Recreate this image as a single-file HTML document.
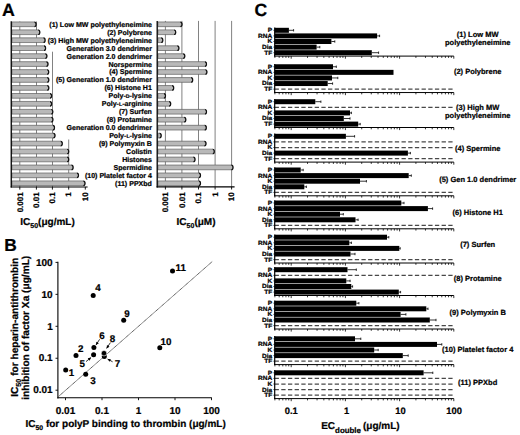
<!DOCTYPE html>
<html><head><meta charset="utf-8"><style>
html,body{margin:0;padding:0;background:#fff;}
body{width:520px;height:435px;overflow:hidden;}
svg{display:block;}
text{font-family:"Liberation Sans",sans-serif;font-weight:bold;fill:#000;stroke:#000;stroke-width:0.22px;text-rendering:geometricPrecision;}
</style></head><body>
<svg width="520" height="435" viewBox="0 0 520 435">
<rect width="520" height="435" fill="#fff"/>
<text x="1.90" y="15.70" font-size="17.8" text-anchor="start" >A</text>
<text x="4.20" y="250.70" font-size="17.4" text-anchor="start" >B</text>
<text x="254.50" y="15.60" font-size="17.6" text-anchor="start" >C</text>
<line x1="19.80" y1="21.50" x2="19.80" y2="187.00" stroke="#6c6c6c" stroke-width="0.85" />
<line x1="36.50" y1="21.50" x2="36.50" y2="187.00" stroke="#6c6c6c" stroke-width="0.85" />
<line x1="52.50" y1="51.70" x2="52.50" y2="187.00" stroke="#6c6c6c" stroke-width="0.85" />
<line x1="68.70" y1="139.50" x2="68.70" y2="187.00" stroke="#6c6c6c" stroke-width="0.85" />
<path d="M11.90,21.95 H34.30 Q36.10,21.95 36.10,24.30 Q36.10,26.65 34.30,26.65 H11.90 Z" fill="#b9b9b9" stroke="#5e5e5e" stroke-width="0.7"/>
<path d="M34.50,22.05 Q36.10,22.05 36.10,24.30 Q36.10,26.55 34.50,26.55" fill="none" stroke="#111" stroke-width="1.2"/>
<path d="M11.90,29.90 H38.00 Q39.80,29.90 39.80,32.25 Q39.80,34.60 38.00,34.60 H11.90 Z" fill="#b9b9b9" stroke="#5e5e5e" stroke-width="0.7"/>
<path d="M38.20,30.00 Q39.80,30.00 39.80,32.25 Q39.80,34.50 38.20,34.50" fill="none" stroke="#111" stroke-width="1.2"/>
<path d="M11.90,37.85 H43.30 Q45.10,37.85 45.10,40.20 Q45.10,42.55 43.30,42.55 H11.90 Z" fill="#b9b9b9" stroke="#5e5e5e" stroke-width="0.7"/>
<path d="M43.50,37.95 Q45.10,37.95 45.10,40.20 Q45.10,42.45 43.50,42.45" fill="none" stroke="#111" stroke-width="1.2"/>
<path d="M11.90,45.80 H43.80 Q45.60,45.80 45.60,48.15 Q45.60,50.50 43.80,50.50 H11.90 Z" fill="#b9b9b9" stroke="#5e5e5e" stroke-width="0.7"/>
<path d="M44.00,45.90 Q45.60,45.90 45.60,48.15 Q45.60,50.40 44.00,50.40" fill="none" stroke="#111" stroke-width="1.2"/>
<path d="M11.90,53.75 H45.10 Q46.90,53.75 46.90,56.10 Q46.90,58.45 45.10,58.45 H11.90 Z" fill="#b9b9b9" stroke="#5e5e5e" stroke-width="0.7"/>
<path d="M45.30,53.85 Q46.90,53.85 46.90,56.10 Q46.90,58.35 45.30,58.35" fill="none" stroke="#111" stroke-width="1.2"/>
<path d="M11.90,61.70 H46.20 Q48.00,61.70 48.00,64.05 Q48.00,66.40 46.20,66.40 H11.90 Z" fill="#b9b9b9" stroke="#5e5e5e" stroke-width="0.7"/>
<path d="M46.40,61.80 Q48.00,61.80 48.00,64.05 Q48.00,66.30 46.40,66.30" fill="none" stroke="#111" stroke-width="1.2"/>
<path d="M11.90,69.65 H46.90 Q48.70,69.65 48.70,72.00 Q48.70,74.35 46.90,74.35 H11.90 Z" fill="#b9b9b9" stroke="#5e5e5e" stroke-width="0.7"/>
<path d="M47.10,69.75 Q48.70,69.75 48.70,72.00 Q48.70,74.25 47.10,74.25" fill="none" stroke="#111" stroke-width="1.2"/>
<path d="M11.90,77.60 H47.00 Q48.80,77.60 48.80,79.95 Q48.80,82.30 47.00,82.30 H11.90 Z" fill="#b9b9b9" stroke="#5e5e5e" stroke-width="0.7"/>
<path d="M47.20,77.70 Q48.80,77.70 48.80,79.95 Q48.80,82.20 47.20,82.20" fill="none" stroke="#111" stroke-width="1.2"/>
<path d="M11.90,85.55 H47.00 Q48.80,85.55 48.80,87.90 Q48.80,90.25 47.00,90.25 H11.90 Z" fill="#b9b9b9" stroke="#5e5e5e" stroke-width="0.7"/>
<path d="M47.20,85.65 Q48.80,85.65 48.80,87.90 Q48.80,90.15 47.20,90.15" fill="none" stroke="#111" stroke-width="1.2"/>
<path d="M11.90,93.50 H49.80 Q51.60,93.50 51.60,95.85 Q51.60,98.20 49.80,98.20 H11.90 Z" fill="#b9b9b9" stroke="#5e5e5e" stroke-width="0.7"/>
<path d="M50.00,93.60 Q51.60,93.60 51.60,95.85 Q51.60,98.10 50.00,98.10" fill="none" stroke="#111" stroke-width="1.2"/>
<path d="M11.90,101.45 H49.80 Q51.60,101.45 51.60,103.80 Q51.60,106.15 49.80,106.15 H11.90 Z" fill="#b9b9b9" stroke="#5e5e5e" stroke-width="0.7"/>
<path d="M50.00,101.55 Q51.60,101.55 51.60,103.80 Q51.60,106.05 50.00,106.05" fill="none" stroke="#111" stroke-width="1.2"/>
<path d="M11.90,109.40 H51.00 Q52.80,109.40 52.80,111.75 Q52.80,114.10 51.00,114.10 H11.90 Z" fill="#b9b9b9" stroke="#5e5e5e" stroke-width="0.7"/>
<path d="M51.20,109.50 Q52.80,109.50 52.80,111.75 Q52.80,114.00 51.20,114.00" fill="none" stroke="#111" stroke-width="1.2"/>
<path d="M11.90,117.35 H51.10 Q52.90,117.35 52.90,119.70 Q52.90,122.05 51.10,122.05 H11.90 Z" fill="#b9b9b9" stroke="#5e5e5e" stroke-width="0.7"/>
<path d="M51.30,117.45 Q52.90,117.45 52.90,119.70 Q52.90,121.95 51.30,121.95" fill="none" stroke="#111" stroke-width="1.2"/>
<path d="M11.90,125.30 H52.70 Q54.50,125.30 54.50,127.65 Q54.50,130.00 52.70,130.00 H11.90 Z" fill="#b9b9b9" stroke="#5e5e5e" stroke-width="0.7"/>
<path d="M52.90,125.40 Q54.50,125.40 54.50,127.65 Q54.50,129.90 52.90,129.90" fill="none" stroke="#111" stroke-width="1.2"/>
<path d="M11.90,133.25 H53.20 Q55.00,133.25 55.00,135.60 Q55.00,137.95 53.20,137.95 H11.90 Z" fill="#b9b9b9" stroke="#5e5e5e" stroke-width="0.7"/>
<path d="M53.40,133.35 Q55.00,133.35 55.00,135.60 Q55.00,137.85 53.40,137.85" fill="none" stroke="#111" stroke-width="1.2"/>
<path d="M11.90,141.20 H60.50 Q62.30,141.20 62.30,143.55 Q62.30,145.90 60.50,145.90 H11.90 Z" fill="#b9b9b9" stroke="#5e5e5e" stroke-width="0.7"/>
<path d="M60.70,141.30 Q62.30,141.30 62.30,143.55 Q62.30,145.80 60.70,145.80" fill="none" stroke="#111" stroke-width="1.2"/>
<path d="M11.90,149.15 H66.90 Q68.70,149.15 68.70,151.50 Q68.70,153.85 66.90,153.85 H11.90 Z" fill="#b9b9b9" stroke="#5e5e5e" stroke-width="0.7"/>
<path d="M67.10,149.25 Q68.70,149.25 68.70,151.50 Q68.70,153.75 67.10,153.75" fill="none" stroke="#111" stroke-width="1.2"/>
<path d="M11.90,157.10 H66.90 Q68.70,157.10 68.70,159.45 Q68.70,161.80 66.90,161.80 H11.90 Z" fill="#b9b9b9" stroke="#5e5e5e" stroke-width="0.7"/>
<path d="M67.10,157.20 Q68.70,157.20 68.70,159.45 Q68.70,161.70 67.10,161.70" fill="none" stroke="#111" stroke-width="1.2"/>
<path d="M11.90,165.05 H71.30 Q73.10,165.05 73.10,167.40 Q73.10,169.75 71.30,169.75 H11.90 Z" fill="#b9b9b9" stroke="#5e5e5e" stroke-width="0.7"/>
<path d="M71.50,165.15 Q73.10,165.15 73.10,167.40 Q73.10,169.65 71.50,169.65" fill="none" stroke="#111" stroke-width="1.2"/>
<path d="M11.90,173.00 H76.70 Q78.50,173.00 78.50,175.35 Q78.50,177.70 76.70,177.70 H11.90 Z" fill="#b9b9b9" stroke="#5e5e5e" stroke-width="0.7"/>
<path d="M76.90,173.10 Q78.50,173.10 78.50,175.35 Q78.50,177.60 76.90,177.60" fill="none" stroke="#111" stroke-width="1.2"/>
<path d="M11.90,180.95 H83.20 Q85.00,180.95 85.00,183.30 Q85.00,185.65 83.20,185.65 H11.90 Z" fill="#b9b9b9" stroke="#5e5e5e" stroke-width="0.7"/>
<path d="M83.40,181.05 Q85.00,181.05 85.00,183.30 Q85.00,185.55 83.40,185.55" fill="none" stroke="#111" stroke-width="1.2"/>
<line x1="11.25" y1="21.30" x2="11.25" y2="187.60" stroke="#000" stroke-width="1.3" />
<line x1="10.65" y1="187.00" x2="87.60" y2="187.00" stroke="#000" stroke-width="1.2" />
<line x1="19.80" y1="187.00" x2="19.80" y2="189.60" stroke="#000" stroke-width="0.9" />
<line x1="36.40" y1="187.00" x2="36.40" y2="189.60" stroke="#000" stroke-width="0.9" />
<line x1="52.40" y1="187.00" x2="52.40" y2="189.60" stroke="#000" stroke-width="0.9" />
<line x1="68.70" y1="187.00" x2="68.70" y2="189.60" stroke="#000" stroke-width="0.9" />
<line x1="85.30" y1="187.00" x2="85.30" y2="189.60" stroke="#000" stroke-width="0.9" />
<text transform="translate(22.50,192.3) rotate(-90)" font-size="8.0" text-anchor="end">0.001</text>
<text transform="translate(39.10,192.3) rotate(-90)" font-size="8.0" text-anchor="end">0.01</text>
<text transform="translate(55.10,192.3) rotate(-90)" font-size="8.0" text-anchor="end">0.1</text>
<text transform="translate(71.40,192.3) rotate(-90)" font-size="8.0" text-anchor="end">1</text>
<text transform="translate(88.00,192.3) rotate(-90)" font-size="8.0" text-anchor="end">10</text>
<line x1="165.40" y1="20.90" x2="165.40" y2="186.90" stroke="#6c6c6c" stroke-width="0.85" />
<line x1="181.90" y1="20.90" x2="181.90" y2="186.90" stroke="#6c6c6c" stroke-width="0.85" />
<line x1="198.50" y1="20.90" x2="198.50" y2="186.90" stroke="#6c6c6c" stroke-width="0.85" />
<line x1="215.10" y1="20.90" x2="215.10" y2="186.90" stroke="#6c6c6c" stroke-width="0.85" />
<line x1="231.60" y1="20.90" x2="231.60" y2="186.90" stroke="#6c6c6c" stroke-width="0.85" />
<path d="M157.90,21.95 H180.20 Q182.00,21.95 182.00,24.30 Q182.00,26.65 180.20,26.65 H157.90 Z" fill="#b9b9b9" stroke="#5e5e5e" stroke-width="0.7"/>
<path d="M180.40,22.05 Q182.00,22.05 182.00,24.30 Q182.00,26.55 180.40,26.55" fill="none" stroke="#111" stroke-width="1.2"/>
<path d="M157.90,29.90 H173.90 Q175.70,29.90 175.70,32.25 Q175.70,34.60 173.90,34.60 H157.90 Z" fill="#b9b9b9" stroke="#5e5e5e" stroke-width="0.7"/>
<path d="M174.10,30.00 Q175.70,30.00 175.70,32.25 Q175.70,34.50 174.10,34.50" fill="none" stroke="#111" stroke-width="1.2"/>
<path d="M157.90,37.85 H161.00 Q162.80,37.85 162.80,40.20 Q162.80,42.55 161.00,42.55 H157.90 Z" fill="#b9b9b9" stroke="#5e5e5e" stroke-width="0.7"/>
<path d="M161.20,37.95 Q162.80,37.95 162.80,40.20 Q162.80,42.45 161.20,42.45" fill="none" stroke="#111" stroke-width="1.2"/>
<path d="M157.90,45.80 H177.10 Q178.90,45.80 178.90,48.15 Q178.90,50.50 177.10,50.50 H157.90 Z" fill="#b9b9b9" stroke="#5e5e5e" stroke-width="0.7"/>
<path d="M177.30,45.90 Q178.90,45.90 178.90,48.15 Q178.90,50.40 177.30,50.40" fill="none" stroke="#111" stroke-width="1.2"/>
<path d="M157.90,53.75 H183.00 Q184.80,53.75 184.80,56.10 Q184.80,58.45 183.00,58.45 H157.90 Z" fill="#b9b9b9" stroke="#5e5e5e" stroke-width="0.7"/>
<path d="M183.20,53.85 Q184.80,53.85 184.80,56.10 Q184.80,58.35 183.20,58.35" fill="none" stroke="#111" stroke-width="1.2"/>
<path d="M157.90,61.70 H204.70 Q206.50,61.70 206.50,64.05 Q206.50,66.40 204.70,66.40 H157.90 Z" fill="#b9b9b9" stroke="#5e5e5e" stroke-width="0.7"/>
<path d="M204.90,61.80 Q206.50,61.80 206.50,64.05 Q206.50,66.30 204.90,66.30" fill="none" stroke="#111" stroke-width="1.2"/>
<path d="M157.90,69.65 H205.10 Q206.90,69.65 206.90,72.00 Q206.90,74.35 205.10,74.35 H157.90 Z" fill="#b9b9b9" stroke="#5e5e5e" stroke-width="0.7"/>
<path d="M205.30,69.75 Q206.90,69.75 206.90,72.00 Q206.90,74.25 205.30,74.25" fill="none" stroke="#111" stroke-width="1.2"/>
<path d="M157.90,77.60 H190.90 Q192.70,77.60 192.70,79.95 Q192.70,82.30 190.90,82.30 H157.90 Z" fill="#b9b9b9" stroke="#5e5e5e" stroke-width="0.7"/>
<path d="M191.10,77.70 Q192.70,77.70 192.70,79.95 Q192.70,82.20 191.10,82.20" fill="none" stroke="#111" stroke-width="1.2"/>
<path d="M157.90,85.55 H171.90 Q173.70,85.55 173.70,87.90 Q173.70,90.25 171.90,90.25 H157.90 Z" fill="#b9b9b9" stroke="#5e5e5e" stroke-width="0.7"/>
<path d="M172.10,85.65 Q173.70,85.65 173.70,87.90 Q173.70,90.15 172.10,90.15" fill="none" stroke="#111" stroke-width="1.2"/>
<path d="M157.90,93.50 H163.70 Q165.50,93.50 165.50,95.85 Q165.50,98.20 163.70,98.20 H157.90 Z" fill="#b9b9b9" stroke="#5e5e5e" stroke-width="0.7"/>
<path d="M163.90,93.60 Q165.50,93.60 165.50,95.85 Q165.50,98.10 163.90,98.10" fill="none" stroke="#111" stroke-width="1.2"/>
<path d="M157.90,101.45 H168.90 Q170.70,101.45 170.70,103.80 Q170.70,106.15 168.90,106.15 H157.90 Z" fill="#b9b9b9" stroke="#5e5e5e" stroke-width="0.7"/>
<path d="M169.10,101.55 Q170.70,101.55 170.70,103.80 Q170.70,106.05 169.10,106.05" fill="none" stroke="#111" stroke-width="1.2"/>
<path d="M157.90,109.40 H204.70 Q206.50,109.40 206.50,111.75 Q206.50,114.10 204.70,114.10 H157.90 Z" fill="#b9b9b9" stroke="#5e5e5e" stroke-width="0.7"/>
<path d="M204.90,109.50 Q206.50,109.50 206.50,111.75 Q206.50,114.00 204.90,114.00" fill="none" stroke="#111" stroke-width="1.2"/>
<path d="M157.90,117.35 H184.00 Q185.80,117.35 185.80,119.70 Q185.80,122.05 184.00,122.05 H157.90 Z" fill="#b9b9b9" stroke="#5e5e5e" stroke-width="0.7"/>
<path d="M184.20,117.45 Q185.80,117.45 185.80,119.70 Q185.80,121.95 184.20,121.95" fill="none" stroke="#111" stroke-width="1.2"/>
<path d="M157.90,125.30 H204.50 Q206.30,125.30 206.30,127.65 Q206.30,130.00 204.50,130.00 H157.90 Z" fill="#b9b9b9" stroke="#5e5e5e" stroke-width="0.7"/>
<path d="M204.70,125.40 Q206.30,125.40 206.30,127.65 Q206.30,129.90 204.70,129.90" fill="none" stroke="#111" stroke-width="1.2"/>
<path d="M157.90,133.25 H159.40 Q161.20,133.25 161.20,135.60 Q161.20,137.95 159.40,137.95 H157.90 Z" fill="#b9b9b9" stroke="#5e5e5e" stroke-width="0.7"/>
<path d="M159.60,133.35 Q161.20,133.35 161.20,135.60 Q161.20,137.85 159.60,137.85" fill="none" stroke="#111" stroke-width="1.2"/>
<path d="M157.90,141.20 H204.20 Q206.00,141.20 206.00,143.55 Q206.00,145.90 204.20,145.90 H157.90 Z" fill="#b9b9b9" stroke="#5e5e5e" stroke-width="0.7"/>
<path d="M204.40,141.30 Q206.00,141.30 206.00,143.55 Q206.00,145.80 204.40,145.80" fill="none" stroke="#111" stroke-width="1.2"/>
<path d="M157.90,149.15 H212.50 Q214.30,149.15 214.30,151.50 Q214.30,153.85 212.50,153.85 H157.90 Z" fill="#b9b9b9" stroke="#5e5e5e" stroke-width="0.7"/>
<path d="M212.70,149.25 Q214.30,149.25 214.30,151.50 Q214.30,153.75 212.70,153.75" fill="none" stroke="#111" stroke-width="1.2"/>
<path d="M157.90,157.10 H193.20 Q195.00,157.10 195.00,159.45 Q195.00,161.80 193.20,161.80 H157.90 Z" fill="#b9b9b9" stroke="#5e5e5e" stroke-width="0.7"/>
<path d="M193.40,157.20 Q195.00,157.20 195.00,159.45 Q195.00,161.70 193.40,161.70" fill="none" stroke="#111" stroke-width="1.2"/>
<path d="M157.90,165.05 H231.20 Q233.00,165.05 233.00,167.40 Q233.00,169.75 231.20,169.75 H157.90 Z" fill="#b9b9b9" stroke="#5e5e5e" stroke-width="0.7"/>
<path d="M231.40,165.15 Q233.00,165.15 233.00,167.40 Q233.00,169.65 231.40,169.65" fill="none" stroke="#111" stroke-width="1.2"/>
<path d="M157.90,173.00 H198.70 Q200.50,173.00 200.50,175.35 Q200.50,177.70 198.70,177.70 H157.90 Z" fill="#b9b9b9" stroke="#5e5e5e" stroke-width="0.7"/>
<path d="M198.90,173.10 Q200.50,173.10 200.50,175.35 Q200.50,177.60 198.90,177.60" fill="none" stroke="#111" stroke-width="1.2"/>
<path d="M157.90,180.95 H198.70 Q200.50,180.95 200.50,183.30 Q200.50,185.65 198.70,185.65 H157.90 Z" fill="#b9b9b9" stroke="#5e5e5e" stroke-width="0.7"/>
<path d="M198.90,181.05 Q200.50,181.05 200.50,183.30 Q200.50,185.55 198.90,185.55" fill="none" stroke="#111" stroke-width="1.2"/>
<line x1="157.20" y1="20.90" x2="157.20" y2="187.50" stroke="#000" stroke-width="1.3" />
<line x1="156.60" y1="186.90" x2="234.60" y2="186.90" stroke="#000" stroke-width="1.2" />
<line x1="165.40" y1="186.90" x2="165.40" y2="189.50" stroke="#000" stroke-width="0.9" />
<line x1="181.90" y1="186.90" x2="181.90" y2="189.50" stroke="#000" stroke-width="0.9" />
<line x1="198.50" y1="186.90" x2="198.50" y2="189.50" stroke="#000" stroke-width="0.9" />
<line x1="215.10" y1="186.90" x2="215.10" y2="189.50" stroke="#000" stroke-width="0.9" />
<line x1="231.60" y1="186.90" x2="231.60" y2="189.50" stroke="#000" stroke-width="0.9" />
<text transform="translate(168.10,192.3) rotate(-90)" font-size="8.0" text-anchor="end">0.001</text>
<text transform="translate(184.60,192.3) rotate(-90)" font-size="8.0" text-anchor="end">0.01</text>
<text transform="translate(201.20,192.3) rotate(-90)" font-size="8.0" text-anchor="end">0.1</text>
<text transform="translate(217.80,192.3) rotate(-90)" font-size="8.0" text-anchor="end">1</text>
<text transform="translate(234.30,192.3) rotate(-90)" font-size="8.0" text-anchor="end">10</text>
<text x="151.90" y="26.75" font-size="7.05" text-anchor="end" >(1) Low MW polyethyleneimine</text>
<text x="151.90" y="34.70" font-size="7.05" text-anchor="end" >(2) Polybrene</text>
<text x="151.90" y="42.65" font-size="7.05" text-anchor="end" >(3) High MW polyethyleneimine</text>
<text x="151.90" y="50.60" font-size="7.05" text-anchor="end" >Generation 3.0 dendrimer</text>
<text x="151.90" y="58.55" font-size="7.05" text-anchor="end" >Generation 2.0 dendrimer</text>
<text x="151.90" y="66.50" font-size="7.05" text-anchor="end" >Norspermine</text>
<text x="151.90" y="74.45" font-size="7.05" text-anchor="end" >(4) Spermine</text>
<text x="151.90" y="82.40" font-size="7.05" text-anchor="end" >(5) Generation 1.0 dendrimer</text>
<text x="151.90" y="90.35" font-size="7.05" text-anchor="end" >(6) Histone H1</text>
<text x="151.90" y="98.30" font-size="7.05" text-anchor="end" >Poly-<tspan font-size="5.2">D</tspan>-lysine</text>
<text x="151.90" y="106.25" font-size="7.05" text-anchor="end" >Poly-<tspan font-size="5.2">L</tspan>-arginine</text>
<text x="151.90" y="114.20" font-size="7.05" text-anchor="end" >(7) Surfen</text>
<text x="151.90" y="122.15" font-size="7.05" text-anchor="end" >(8) Protamine</text>
<text x="151.90" y="130.10" font-size="7.05" text-anchor="end" >Generation 0.0 dendrimer</text>
<text x="151.90" y="138.05" font-size="7.05" text-anchor="end" >Poly-<tspan font-size="5.2">L</tspan>-lysine</text>
<text x="151.90" y="146.00" font-size="7.05" text-anchor="end" >(9) Polymyxin B</text>
<text x="151.90" y="153.95" font-size="7.05" text-anchor="end" >Colistin</text>
<text x="151.90" y="161.90" font-size="7.05" text-anchor="end" >Histones</text>
<text x="151.90" y="169.85" font-size="7.05" text-anchor="end" >Spermidine</text>
<text x="151.90" y="177.80" font-size="7.05" text-anchor="end" >(10) Platelet factor 4</text>
<text x="151.90" y="185.75" font-size="7.05" text-anchor="end" >(11) PPXbd</text>
<text x="20.3" y="225.4" font-size="10">IC<tspan font-size="7" dy="2.7">50</tspan><tspan dy="-2.7">(μg/mL)</tspan></text>
<text x="176.6" y="225.4" font-size="10">IC<tspan font-size="7" dy="2.7">50</tspan><tspan dy="-2.7">(μM)</tspan></text>
<line x1="57.90" y1="261.80" x2="57.90" y2="398.40" stroke="#000" stroke-width="1.1" />
<line x1="57.40" y1="397.80" x2="211.80" y2="397.80" stroke="#000" stroke-width="1.1" />
<line x1="55.50" y1="262.40" x2="57.90" y2="262.40" stroke="#000" stroke-width="0.9" />
<text x="52.70" y="265.60" font-size="10.0" text-anchor="end" >100</text>
<line x1="55.50" y1="294.35" x2="57.90" y2="294.35" stroke="#000" stroke-width="0.9" />
<text x="52.70" y="297.55" font-size="10.0" text-anchor="end" >10</text>
<line x1="55.50" y1="326.30" x2="57.90" y2="326.30" stroke="#000" stroke-width="0.9" />
<text x="52.70" y="329.50" font-size="10.0" text-anchor="end" >1</text>
<line x1="55.50" y1="358.25" x2="57.90" y2="358.25" stroke="#000" stroke-width="0.9" />
<text x="52.70" y="361.45" font-size="10.0" text-anchor="end" >0.1</text>
<line x1="55.50" y1="390.20" x2="57.90" y2="390.20" stroke="#000" stroke-width="0.9" />
<text x="52.70" y="393.40" font-size="10.0" text-anchor="end" >0.01</text>
<line x1="65.50" y1="397.80" x2="65.50" y2="400.20" stroke="#000" stroke-width="0.9" />
<text x="65.50" y="413.80" font-size="10.0" text-anchor="middle" >0.01</text>
<line x1="102.00" y1="397.80" x2="102.00" y2="400.20" stroke="#000" stroke-width="0.9" />
<text x="102.00" y="413.80" font-size="10.0" text-anchor="middle" >0.1</text>
<line x1="138.50" y1="397.80" x2="138.50" y2="400.20" stroke="#000" stroke-width="0.9" />
<text x="138.50" y="413.80" font-size="10.0" text-anchor="middle" >1</text>
<line x1="175.00" y1="397.80" x2="175.00" y2="400.20" stroke="#000" stroke-width="0.9" />
<text x="175.00" y="413.80" font-size="10.0" text-anchor="middle" >10</text>
<line x1="211.50" y1="397.80" x2="211.50" y2="400.20" stroke="#000" stroke-width="0.9" />
<text x="211.50" y="413.80" font-size="10.0" text-anchor="middle" >100</text>
<line x1="58.6" y1="396.40" x2="212.2" y2="261.6" stroke="#2a2a2a" stroke-width="0.9" stroke-dasharray="1.1 0.5"/>
<circle cx="65.7" cy="370.1" r="2.5" fill="#000"/>
<circle cx="76.0" cy="355.5" r="2.5" fill="#000"/>
<circle cx="85.7" cy="374.3" r="2.5" fill="#000"/>
<circle cx="93.2" cy="295.5" r="2.5" fill="#000"/>
<circle cx="93.6" cy="354.7" r="2.5" fill="#000"/>
<circle cx="93.9" cy="347.6" r="2.5" fill="#000"/>
<circle cx="104.3" cy="356.6" r="2.5" fill="#000"/>
<circle cx="104.0" cy="353.2" r="2.75" fill="#000" stroke="#fff" stroke-width="0.6"/>
<circle cx="123.7" cy="320.2" r="2.5" fill="#000"/>
<circle cx="159.8" cy="347.7" r="2.5" fill="#000"/>
<circle cx="172.5" cy="270.9" r="2.5" fill="#000"/>
<text x="71.40" y="376.30" font-size="9.8" text-anchor="middle" >1</text>
<text x="80.80" y="352.10" font-size="9.8" text-anchor="middle" >2</text>
<text x="93.10" y="383.50" font-size="9.8" text-anchor="middle" >3</text>
<text x="97.90" y="290.50" font-size="9.8" text-anchor="middle" >4</text>
<text x="82.30" y="367.40" font-size="9.8" text-anchor="middle" >5</text>
<text x="102.00" y="338.70" font-size="9.8" text-anchor="middle" >6</text>
<text x="117.60" y="367.40" font-size="9.8" text-anchor="middle" >7</text>
<text x="112.60" y="342.30" font-size="9.8" text-anchor="middle" >8</text>
<text x="127.00" y="316.50" font-size="9.8" text-anchor="middle" >9</text>
<text x="166.00" y="344.70" font-size="9.8" text-anchor="middle" >10</text>
<text x="180.80" y="270.70" font-size="9.8" text-anchor="middle" >11</text>
<line x1="99.60" y1="339.30" x2="96.00" y2="345.00" stroke="#000" stroke-width="0.8" />
<polygon points="96.00,345.00 96.33,341.66 98.87,343.26" fill="#000"/>
<line x1="86.00" y1="361.60" x2="91.00" y2="357.60" stroke="#000" stroke-width="0.8" />
<polygon points="91.00,357.60 89.59,360.65 87.72,358.30" fill="#000"/>
<line x1="112.60" y1="361.80" x2="107.60" y2="359.00" stroke="#000" stroke-width="0.8" />
<polygon points="107.60,359.00 110.95,359.16 109.48,361.77" fill="#000"/>
<line x1="110.40" y1="342.60" x2="106.60" y2="348.40" stroke="#000" stroke-width="0.8" />
<polygon points="106.60,348.40 106.99,345.07 109.50,346.71" fill="#000"/>
<text x="25.6" y="426.9" font-size="10">IC<tspan font-size="6.8" dy="2.6">50</tspan><tspan dy="-2.6"> for polyP binding to thrombin (μg/mL)</tspan></text>
<text transform="translate(18.2,396.8) rotate(-90)" font-size="10.15">IC<tspan font-size="7.2" dy="3.0">50</tspan><tspan dy="-3.0"> for heparin-antithrombin</tspan></text>
<text transform="translate(29.2,399.8) rotate(-90)" font-size="10.15">inhibition of factor Xa (μg/mL)</text>
<rect x="274.70" y="27.80" width="14.20" height="5.00" fill="#000" />
<line x1="288.90" y1="30.30" x2="293.60" y2="30.30" stroke="#000" stroke-width="0.8" />
<line x1="293.60" y1="29.10" x2="293.60" y2="31.50" stroke="#000" stroke-width="0.8" />
<text transform="translate(272.2,32.20) scale(1.08,1)" font-size="6.05" text-anchor="end">P</text>
<line x1="273.30" y1="30.30" x2="274.70" y2="30.30" stroke="#000" stroke-width="0.6" />
<rect x="274.70" y="33.40" width="102.40" height="5.00" fill="#000" />
<line x1="377.10" y1="35.90" x2="379.60" y2="35.90" stroke="#000" stroke-width="0.8" />
<line x1="379.60" y1="34.70" x2="379.60" y2="37.10" stroke="#000" stroke-width="0.8" />
<text transform="translate(272.2,37.80) scale(1.08,1)" font-size="6.05" text-anchor="end">RNA</text>
<line x1="273.30" y1="35.90" x2="274.70" y2="35.90" stroke="#000" stroke-width="0.6" />
<rect x="274.70" y="39.00" width="56.70" height="5.00" fill="#000" />
<line x1="331.40" y1="41.50" x2="334.80" y2="41.50" stroke="#000" stroke-width="0.8" />
<line x1="334.80" y1="40.30" x2="334.80" y2="42.70" stroke="#000" stroke-width="0.8" />
<text transform="translate(272.2,43.40) scale(1.08,1)" font-size="6.05" text-anchor="end">K</text>
<line x1="273.30" y1="41.50" x2="274.70" y2="41.50" stroke="#000" stroke-width="0.6" />
<rect x="274.70" y="44.60" width="41.90" height="5.00" fill="#000" />
<line x1="316.60" y1="47.10" x2="319.80" y2="47.10" stroke="#000" stroke-width="0.8" />
<line x1="319.80" y1="45.90" x2="319.80" y2="48.30" stroke="#000" stroke-width="0.8" />
<text transform="translate(272.2,49.00) scale(1.08,1)" font-size="6.05" text-anchor="end">Dia</text>
<line x1="273.30" y1="47.10" x2="274.70" y2="47.10" stroke="#000" stroke-width="0.6" />
<rect x="274.70" y="50.20" width="97.10" height="5.00" fill="#000" />
<line x1="371.80" y1="52.70" x2="378.60" y2="52.70" stroke="#000" stroke-width="0.8" />
<line x1="378.60" y1="51.50" x2="378.60" y2="53.90" stroke="#000" stroke-width="0.8" />
<text transform="translate(272.2,54.60) scale(1.08,1)" font-size="6.05" text-anchor="end">TF</text>
<line x1="273.30" y1="52.70" x2="274.70" y2="52.70" stroke="#000" stroke-width="0.6" />
<line x1="274.70" y1="27.50" x2="274.70" y2="56.60" stroke="#000" stroke-width="1.2" />
<line x1="274.10" y1="56.10" x2="453.80" y2="56.10" stroke="#000" stroke-width="1.0" />
<line x1="274.88" y1="56.10" x2="274.88" y2="57.90" stroke="#000" stroke-width="0.8" />
<line x1="279.18" y1="56.10" x2="279.18" y2="57.90" stroke="#000" stroke-width="0.8" />
<line x1="282.80" y1="56.10" x2="282.80" y2="57.90" stroke="#000" stroke-width="0.8" />
<line x1="285.95" y1="56.10" x2="285.95" y2="57.90" stroke="#000" stroke-width="0.8" />
<line x1="288.72" y1="56.10" x2="288.72" y2="57.90" stroke="#000" stroke-width="0.8" />
<line x1="291.20" y1="56.10" x2="291.20" y2="58.70" stroke="#000" stroke-width="0.8" />
<line x1="307.52" y1="56.10" x2="307.52" y2="57.90" stroke="#000" stroke-width="0.8" />
<line x1="317.06" y1="56.10" x2="317.06" y2="57.90" stroke="#000" stroke-width="0.8" />
<line x1="323.83" y1="56.10" x2="323.83" y2="57.90" stroke="#000" stroke-width="0.8" />
<line x1="329.08" y1="56.10" x2="329.08" y2="57.90" stroke="#000" stroke-width="0.8" />
<line x1="333.38" y1="56.10" x2="333.38" y2="57.90" stroke="#000" stroke-width="0.8" />
<line x1="337.00" y1="56.10" x2="337.00" y2="57.90" stroke="#000" stroke-width="0.8" />
<line x1="340.15" y1="56.10" x2="340.15" y2="57.90" stroke="#000" stroke-width="0.8" />
<line x1="342.92" y1="56.10" x2="342.92" y2="57.90" stroke="#000" stroke-width="0.8" />
<line x1="345.40" y1="56.10" x2="345.40" y2="58.70" stroke="#000" stroke-width="0.8" />
<line x1="361.72" y1="56.10" x2="361.72" y2="57.90" stroke="#000" stroke-width="0.8" />
<line x1="371.26" y1="56.10" x2="371.26" y2="57.90" stroke="#000" stroke-width="0.8" />
<line x1="378.03" y1="56.10" x2="378.03" y2="57.90" stroke="#000" stroke-width="0.8" />
<line x1="383.28" y1="56.10" x2="383.28" y2="57.90" stroke="#000" stroke-width="0.8" />
<line x1="387.58" y1="56.10" x2="387.58" y2="57.90" stroke="#000" stroke-width="0.8" />
<line x1="391.20" y1="56.10" x2="391.20" y2="57.90" stroke="#000" stroke-width="0.8" />
<line x1="394.35" y1="56.10" x2="394.35" y2="57.90" stroke="#000" stroke-width="0.8" />
<line x1="397.12" y1="56.10" x2="397.12" y2="57.90" stroke="#000" stroke-width="0.8" />
<line x1="399.60" y1="56.10" x2="399.60" y2="58.70" stroke="#000" stroke-width="0.8" />
<line x1="415.92" y1="56.10" x2="415.92" y2="57.90" stroke="#000" stroke-width="0.8" />
<line x1="425.46" y1="56.10" x2="425.46" y2="57.90" stroke="#000" stroke-width="0.8" />
<line x1="432.23" y1="56.10" x2="432.23" y2="57.90" stroke="#000" stroke-width="0.8" />
<line x1="437.48" y1="56.10" x2="437.48" y2="57.90" stroke="#000" stroke-width="0.8" />
<line x1="441.78" y1="56.10" x2="441.78" y2="57.90" stroke="#000" stroke-width="0.8" />
<line x1="445.40" y1="56.10" x2="445.40" y2="57.90" stroke="#000" stroke-width="0.8" />
<line x1="448.55" y1="56.10" x2="448.55" y2="57.90" stroke="#000" stroke-width="0.8" />
<line x1="451.32" y1="56.10" x2="451.32" y2="57.90" stroke="#000" stroke-width="0.8" />
<line x1="453.80" y1="56.10" x2="453.80" y2="58.70" stroke="#000" stroke-width="0.8" />
<text x="477.70" y="37.40" font-size="7.5" text-anchor="middle" >(1) Low MW</text>
<text x="477.70" y="45.10" font-size="7.5" text-anchor="middle" >polyethyleneimine</text>
<rect x="274.70" y="64.25" width="58.30" height="5.00" fill="#000" />
<line x1="333.00" y1="66.75" x2="336.30" y2="66.75" stroke="#000" stroke-width="0.8" />
<line x1="336.30" y1="65.55" x2="336.30" y2="67.95" stroke="#000" stroke-width="0.8" />
<text transform="translate(272.2,68.65) scale(1.08,1)" font-size="6.05" text-anchor="end">P</text>
<line x1="273.30" y1="66.75" x2="274.70" y2="66.75" stroke="#000" stroke-width="0.6" />
<rect x="274.70" y="69.85" width="118.80" height="5.00" fill="#000" />
<text transform="translate(272.2,74.25) scale(1.08,1)" font-size="6.05" text-anchor="end">RNA</text>
<line x1="273.30" y1="72.35" x2="274.70" y2="72.35" stroke="#000" stroke-width="0.6" />
<rect x="274.70" y="75.45" width="57.30" height="5.00" fill="#000" />
<line x1="332.00" y1="77.95" x2="337.80" y2="77.95" stroke="#000" stroke-width="0.8" />
<line x1="337.80" y1="76.75" x2="337.80" y2="79.15" stroke="#000" stroke-width="0.8" />
<text transform="translate(272.2,79.85) scale(1.08,1)" font-size="6.05" text-anchor="end">K</text>
<line x1="273.30" y1="77.95" x2="274.70" y2="77.95" stroke="#000" stroke-width="0.6" />
<rect x="274.70" y="81.05" width="53.00" height="5.00" fill="#000" />
<line x1="327.70" y1="83.55" x2="332.60" y2="83.55" stroke="#000" stroke-width="0.8" />
<line x1="332.60" y1="82.35" x2="332.60" y2="84.75" stroke="#000" stroke-width="0.8" />
<text transform="translate(272.2,85.45) scale(1.08,1)" font-size="6.05" text-anchor="end">Dia</text>
<line x1="273.30" y1="83.55" x2="274.70" y2="83.55" stroke="#000" stroke-width="0.6" />
<line x1="274.60" y1="89.15" x2="453.00" y2="89.15" stroke="#484848" stroke-width="1.25" stroke-dasharray="4.3 2.38"/>
<text transform="translate(272.2,91.05) scale(1.08,1)" font-size="6.05" text-anchor="end">TF</text>
<line x1="273.30" y1="89.15" x2="274.70" y2="89.15" stroke="#000" stroke-width="0.6" />
<line x1="274.70" y1="63.95" x2="274.70" y2="93.05" stroke="#000" stroke-width="1.2" />
<line x1="274.10" y1="92.55" x2="453.80" y2="92.55" stroke="#000" stroke-width="1.0" />
<line x1="274.88" y1="92.55" x2="274.88" y2="94.35" stroke="#000" stroke-width="0.8" />
<line x1="279.18" y1="92.55" x2="279.18" y2="94.35" stroke="#000" stroke-width="0.8" />
<line x1="282.80" y1="92.55" x2="282.80" y2="94.35" stroke="#000" stroke-width="0.8" />
<line x1="285.95" y1="92.55" x2="285.95" y2="94.35" stroke="#000" stroke-width="0.8" />
<line x1="288.72" y1="92.55" x2="288.72" y2="94.35" stroke="#000" stroke-width="0.8" />
<line x1="291.20" y1="92.55" x2="291.20" y2="95.15" stroke="#000" stroke-width="0.8" />
<line x1="307.52" y1="92.55" x2="307.52" y2="94.35" stroke="#000" stroke-width="0.8" />
<line x1="317.06" y1="92.55" x2="317.06" y2="94.35" stroke="#000" stroke-width="0.8" />
<line x1="323.83" y1="92.55" x2="323.83" y2="94.35" stroke="#000" stroke-width="0.8" />
<line x1="329.08" y1="92.55" x2="329.08" y2="94.35" stroke="#000" stroke-width="0.8" />
<line x1="333.38" y1="92.55" x2="333.38" y2="94.35" stroke="#000" stroke-width="0.8" />
<line x1="337.00" y1="92.55" x2="337.00" y2="94.35" stroke="#000" stroke-width="0.8" />
<line x1="340.15" y1="92.55" x2="340.15" y2="94.35" stroke="#000" stroke-width="0.8" />
<line x1="342.92" y1="92.55" x2="342.92" y2="94.35" stroke="#000" stroke-width="0.8" />
<line x1="345.40" y1="92.55" x2="345.40" y2="95.15" stroke="#000" stroke-width="0.8" />
<line x1="361.72" y1="92.55" x2="361.72" y2="94.35" stroke="#000" stroke-width="0.8" />
<line x1="371.26" y1="92.55" x2="371.26" y2="94.35" stroke="#000" stroke-width="0.8" />
<line x1="378.03" y1="92.55" x2="378.03" y2="94.35" stroke="#000" stroke-width="0.8" />
<line x1="383.28" y1="92.55" x2="383.28" y2="94.35" stroke="#000" stroke-width="0.8" />
<line x1="387.58" y1="92.55" x2="387.58" y2="94.35" stroke="#000" stroke-width="0.8" />
<line x1="391.20" y1="92.55" x2="391.20" y2="94.35" stroke="#000" stroke-width="0.8" />
<line x1="394.35" y1="92.55" x2="394.35" y2="94.35" stroke="#000" stroke-width="0.8" />
<line x1="397.12" y1="92.55" x2="397.12" y2="94.35" stroke="#000" stroke-width="0.8" />
<line x1="399.60" y1="92.55" x2="399.60" y2="95.15" stroke="#000" stroke-width="0.8" />
<line x1="415.92" y1="92.55" x2="415.92" y2="94.35" stroke="#000" stroke-width="0.8" />
<line x1="425.46" y1="92.55" x2="425.46" y2="94.35" stroke="#000" stroke-width="0.8" />
<line x1="432.23" y1="92.55" x2="432.23" y2="94.35" stroke="#000" stroke-width="0.8" />
<line x1="437.48" y1="92.55" x2="437.48" y2="94.35" stroke="#000" stroke-width="0.8" />
<line x1="441.78" y1="92.55" x2="441.78" y2="94.35" stroke="#000" stroke-width="0.8" />
<line x1="445.40" y1="92.55" x2="445.40" y2="94.35" stroke="#000" stroke-width="0.8" />
<line x1="448.55" y1="92.55" x2="448.55" y2="94.35" stroke="#000" stroke-width="0.8" />
<line x1="451.32" y1="92.55" x2="451.32" y2="94.35" stroke="#000" stroke-width="0.8" />
<line x1="453.80" y1="92.55" x2="453.80" y2="95.15" stroke="#000" stroke-width="0.8" />
<text x="477.70" y="73.90" font-size="7.5" text-anchor="middle" >(2) Polybrene</text>
<rect x="274.70" y="99.20" width="40.60" height="5.00" fill="#000" />
<line x1="315.30" y1="101.70" x2="320.90" y2="101.70" stroke="#000" stroke-width="0.8" />
<line x1="320.90" y1="100.50" x2="320.90" y2="102.90" stroke="#000" stroke-width="0.8" />
<text transform="translate(272.2,103.60) scale(1.08,1)" font-size="6.05" text-anchor="end">P</text>
<line x1="273.30" y1="101.70" x2="274.70" y2="101.70" stroke="#000" stroke-width="0.6" />
<line x1="274.60" y1="107.30" x2="453.00" y2="107.30" stroke="#484848" stroke-width="1.25" stroke-dasharray="4.3 2.38"/>
<text transform="translate(272.2,109.20) scale(1.08,1)" font-size="6.05" text-anchor="end">RNA</text>
<line x1="273.30" y1="107.30" x2="274.70" y2="107.30" stroke="#000" stroke-width="0.6" />
<rect x="274.70" y="110.40" width="75.30" height="5.00" fill="#000" />
<line x1="350.00" y1="112.90" x2="351.40" y2="112.90" stroke="#000" stroke-width="0.8" />
<line x1="351.40" y1="111.70" x2="351.40" y2="114.10" stroke="#000" stroke-width="0.8" />
<text transform="translate(272.2,114.80) scale(1.08,1)" font-size="6.05" text-anchor="end">K</text>
<line x1="273.30" y1="112.90" x2="274.70" y2="112.90" stroke="#000" stroke-width="0.6" />
<rect x="274.70" y="116.00" width="69.10" height="5.00" fill="#000" />
<line x1="343.80" y1="118.50" x2="350.00" y2="118.50" stroke="#000" stroke-width="0.8" />
<line x1="350.00" y1="117.30" x2="350.00" y2="119.70" stroke="#000" stroke-width="0.8" />
<text transform="translate(272.2,120.40) scale(1.08,1)" font-size="6.05" text-anchor="end">Dia</text>
<line x1="273.30" y1="118.50" x2="274.70" y2="118.50" stroke="#000" stroke-width="0.6" />
<rect x="274.70" y="121.60" width="83.50" height="5.00" fill="#000" />
<line x1="358.20" y1="124.10" x2="360.20" y2="124.10" stroke="#000" stroke-width="0.8" />
<line x1="360.20" y1="122.90" x2="360.20" y2="125.30" stroke="#000" stroke-width="0.8" />
<text transform="translate(272.2,126.00) scale(1.08,1)" font-size="6.05" text-anchor="end">TF</text>
<line x1="273.30" y1="124.10" x2="274.70" y2="124.10" stroke="#000" stroke-width="0.6" />
<line x1="274.70" y1="98.90" x2="274.70" y2="128.00" stroke="#000" stroke-width="1.2" />
<line x1="274.10" y1="127.50" x2="453.80" y2="127.50" stroke="#000" stroke-width="1.0" />
<line x1="274.88" y1="127.50" x2="274.88" y2="129.30" stroke="#000" stroke-width="0.8" />
<line x1="279.18" y1="127.50" x2="279.18" y2="129.30" stroke="#000" stroke-width="0.8" />
<line x1="282.80" y1="127.50" x2="282.80" y2="129.30" stroke="#000" stroke-width="0.8" />
<line x1="285.95" y1="127.50" x2="285.95" y2="129.30" stroke="#000" stroke-width="0.8" />
<line x1="288.72" y1="127.50" x2="288.72" y2="129.30" stroke="#000" stroke-width="0.8" />
<line x1="291.20" y1="127.50" x2="291.20" y2="130.10" stroke="#000" stroke-width="0.8" />
<line x1="307.52" y1="127.50" x2="307.52" y2="129.30" stroke="#000" stroke-width="0.8" />
<line x1="317.06" y1="127.50" x2="317.06" y2="129.30" stroke="#000" stroke-width="0.8" />
<line x1="323.83" y1="127.50" x2="323.83" y2="129.30" stroke="#000" stroke-width="0.8" />
<line x1="329.08" y1="127.50" x2="329.08" y2="129.30" stroke="#000" stroke-width="0.8" />
<line x1="333.38" y1="127.50" x2="333.38" y2="129.30" stroke="#000" stroke-width="0.8" />
<line x1="337.00" y1="127.50" x2="337.00" y2="129.30" stroke="#000" stroke-width="0.8" />
<line x1="340.15" y1="127.50" x2="340.15" y2="129.30" stroke="#000" stroke-width="0.8" />
<line x1="342.92" y1="127.50" x2="342.92" y2="129.30" stroke="#000" stroke-width="0.8" />
<line x1="345.40" y1="127.50" x2="345.40" y2="130.10" stroke="#000" stroke-width="0.8" />
<line x1="361.72" y1="127.50" x2="361.72" y2="129.30" stroke="#000" stroke-width="0.8" />
<line x1="371.26" y1="127.50" x2="371.26" y2="129.30" stroke="#000" stroke-width="0.8" />
<line x1="378.03" y1="127.50" x2="378.03" y2="129.30" stroke="#000" stroke-width="0.8" />
<line x1="383.28" y1="127.50" x2="383.28" y2="129.30" stroke="#000" stroke-width="0.8" />
<line x1="387.58" y1="127.50" x2="387.58" y2="129.30" stroke="#000" stroke-width="0.8" />
<line x1="391.20" y1="127.50" x2="391.20" y2="129.30" stroke="#000" stroke-width="0.8" />
<line x1="394.35" y1="127.50" x2="394.35" y2="129.30" stroke="#000" stroke-width="0.8" />
<line x1="397.12" y1="127.50" x2="397.12" y2="129.30" stroke="#000" stroke-width="0.8" />
<line x1="399.60" y1="127.50" x2="399.60" y2="130.10" stroke="#000" stroke-width="0.8" />
<line x1="415.92" y1="127.50" x2="415.92" y2="129.30" stroke="#000" stroke-width="0.8" />
<line x1="425.46" y1="127.50" x2="425.46" y2="129.30" stroke="#000" stroke-width="0.8" />
<line x1="432.23" y1="127.50" x2="432.23" y2="129.30" stroke="#000" stroke-width="0.8" />
<line x1="437.48" y1="127.50" x2="437.48" y2="129.30" stroke="#000" stroke-width="0.8" />
<line x1="441.78" y1="127.50" x2="441.78" y2="129.30" stroke="#000" stroke-width="0.8" />
<line x1="445.40" y1="127.50" x2="445.40" y2="129.30" stroke="#000" stroke-width="0.8" />
<line x1="448.55" y1="127.50" x2="448.55" y2="129.30" stroke="#000" stroke-width="0.8" />
<line x1="451.32" y1="127.50" x2="451.32" y2="129.30" stroke="#000" stroke-width="0.8" />
<line x1="453.80" y1="127.50" x2="453.80" y2="130.10" stroke="#000" stroke-width="0.8" />
<text x="477.70" y="109.60" font-size="7.5" text-anchor="middle" >(3) High MW</text>
<text x="477.70" y="118.10" font-size="7.5" text-anchor="middle" >polyethyleneimine</text>
<rect x="274.70" y="133.80" width="71.20" height="5.00" fill="#000" />
<line x1="345.90" y1="136.30" x2="354.60" y2="136.30" stroke="#000" stroke-width="0.8" />
<line x1="354.60" y1="135.10" x2="354.60" y2="137.50" stroke="#000" stroke-width="0.8" />
<text transform="translate(272.2,138.20) scale(1.08,1)" font-size="6.05" text-anchor="end">P</text>
<line x1="273.30" y1="136.30" x2="274.70" y2="136.30" stroke="#000" stroke-width="0.6" />
<line x1="274.60" y1="141.90" x2="453.00" y2="141.90" stroke="#484848" stroke-width="1.25" stroke-dasharray="4.3 2.38"/>
<text transform="translate(272.2,143.80) scale(1.08,1)" font-size="6.05" text-anchor="end">RNA</text>
<line x1="273.30" y1="141.90" x2="274.70" y2="141.90" stroke="#000" stroke-width="0.6" />
<line x1="274.60" y1="147.50" x2="453.00" y2="147.50" stroke="#484848" stroke-width="1.25" stroke-dasharray="4.3 2.38"/>
<text transform="translate(272.2,149.40) scale(1.08,1)" font-size="6.05" text-anchor="end">K</text>
<line x1="273.30" y1="147.50" x2="274.70" y2="147.50" stroke="#000" stroke-width="0.6" />
<rect x="274.70" y="150.60" width="133.20" height="5.00" fill="#000" />
<line x1="407.90" y1="153.10" x2="410.40" y2="153.10" stroke="#000" stroke-width="0.8" />
<line x1="410.40" y1="151.90" x2="410.40" y2="154.30" stroke="#000" stroke-width="0.8" />
<text transform="translate(272.2,155.00) scale(1.08,1)" font-size="6.05" text-anchor="end">Dia</text>
<line x1="273.30" y1="153.10" x2="274.70" y2="153.10" stroke="#000" stroke-width="0.6" />
<line x1="274.60" y1="158.70" x2="453.00" y2="158.70" stroke="#484848" stroke-width="1.25" stroke-dasharray="4.3 2.38"/>
<text transform="translate(272.2,160.60) scale(1.08,1)" font-size="6.05" text-anchor="end">TF</text>
<line x1="273.30" y1="158.70" x2="274.70" y2="158.70" stroke="#000" stroke-width="0.6" />
<line x1="274.70" y1="133.50" x2="274.70" y2="162.60" stroke="#000" stroke-width="1.2" />
<line x1="274.10" y1="162.10" x2="453.80" y2="162.10" stroke="#000" stroke-width="1.0" />
<line x1="274.88" y1="162.10" x2="274.88" y2="163.90" stroke="#000" stroke-width="0.8" />
<line x1="279.18" y1="162.10" x2="279.18" y2="163.90" stroke="#000" stroke-width="0.8" />
<line x1="282.80" y1="162.10" x2="282.80" y2="163.90" stroke="#000" stroke-width="0.8" />
<line x1="285.95" y1="162.10" x2="285.95" y2="163.90" stroke="#000" stroke-width="0.8" />
<line x1="288.72" y1="162.10" x2="288.72" y2="163.90" stroke="#000" stroke-width="0.8" />
<line x1="291.20" y1="162.10" x2="291.20" y2="164.70" stroke="#000" stroke-width="0.8" />
<line x1="307.52" y1="162.10" x2="307.52" y2="163.90" stroke="#000" stroke-width="0.8" />
<line x1="317.06" y1="162.10" x2="317.06" y2="163.90" stroke="#000" stroke-width="0.8" />
<line x1="323.83" y1="162.10" x2="323.83" y2="163.90" stroke="#000" stroke-width="0.8" />
<line x1="329.08" y1="162.10" x2="329.08" y2="163.90" stroke="#000" stroke-width="0.8" />
<line x1="333.38" y1="162.10" x2="333.38" y2="163.90" stroke="#000" stroke-width="0.8" />
<line x1="337.00" y1="162.10" x2="337.00" y2="163.90" stroke="#000" stroke-width="0.8" />
<line x1="340.15" y1="162.10" x2="340.15" y2="163.90" stroke="#000" stroke-width="0.8" />
<line x1="342.92" y1="162.10" x2="342.92" y2="163.90" stroke="#000" stroke-width="0.8" />
<line x1="345.40" y1="162.10" x2="345.40" y2="164.70" stroke="#000" stroke-width="0.8" />
<line x1="361.72" y1="162.10" x2="361.72" y2="163.90" stroke="#000" stroke-width="0.8" />
<line x1="371.26" y1="162.10" x2="371.26" y2="163.90" stroke="#000" stroke-width="0.8" />
<line x1="378.03" y1="162.10" x2="378.03" y2="163.90" stroke="#000" stroke-width="0.8" />
<line x1="383.28" y1="162.10" x2="383.28" y2="163.90" stroke="#000" stroke-width="0.8" />
<line x1="387.58" y1="162.10" x2="387.58" y2="163.90" stroke="#000" stroke-width="0.8" />
<line x1="391.20" y1="162.10" x2="391.20" y2="163.90" stroke="#000" stroke-width="0.8" />
<line x1="394.35" y1="162.10" x2="394.35" y2="163.90" stroke="#000" stroke-width="0.8" />
<line x1="397.12" y1="162.10" x2="397.12" y2="163.90" stroke="#000" stroke-width="0.8" />
<line x1="399.60" y1="162.10" x2="399.60" y2="164.70" stroke="#000" stroke-width="0.8" />
<line x1="415.92" y1="162.10" x2="415.92" y2="163.90" stroke="#000" stroke-width="0.8" />
<line x1="425.46" y1="162.10" x2="425.46" y2="163.90" stroke="#000" stroke-width="0.8" />
<line x1="432.23" y1="162.10" x2="432.23" y2="163.90" stroke="#000" stroke-width="0.8" />
<line x1="437.48" y1="162.10" x2="437.48" y2="163.90" stroke="#000" stroke-width="0.8" />
<line x1="441.78" y1="162.10" x2="441.78" y2="163.90" stroke="#000" stroke-width="0.8" />
<line x1="445.40" y1="162.10" x2="445.40" y2="163.90" stroke="#000" stroke-width="0.8" />
<line x1="448.55" y1="162.10" x2="448.55" y2="163.90" stroke="#000" stroke-width="0.8" />
<line x1="451.32" y1="162.10" x2="451.32" y2="163.90" stroke="#000" stroke-width="0.8" />
<line x1="453.80" y1="162.10" x2="453.80" y2="164.70" stroke="#000" stroke-width="0.8" />
<text x="477.70" y="151.20" font-size="7.5" text-anchor="middle" >(4) Spermine</text>
<rect x="274.70" y="167.50" width="26.00" height="5.00" fill="#000" />
<line x1="300.70" y1="170.00" x2="303.20" y2="170.00" stroke="#000" stroke-width="0.8" />
<line x1="303.20" y1="168.80" x2="303.20" y2="171.20" stroke="#000" stroke-width="0.8" />
<text transform="translate(272.2,171.90) scale(1.08,1)" font-size="6.05" text-anchor="end">P</text>
<line x1="273.30" y1="170.00" x2="274.70" y2="170.00" stroke="#000" stroke-width="0.6" />
<rect x="274.70" y="173.10" width="134.00" height="5.00" fill="#000" />
<line x1="408.70" y1="175.60" x2="411.30" y2="175.60" stroke="#000" stroke-width="0.8" />
<line x1="411.30" y1="174.40" x2="411.30" y2="176.80" stroke="#000" stroke-width="0.8" />
<text transform="translate(272.2,177.50) scale(1.08,1)" font-size="6.05" text-anchor="end">RNA</text>
<line x1="273.30" y1="175.60" x2="274.70" y2="175.60" stroke="#000" stroke-width="0.6" />
<rect x="274.70" y="178.70" width="85.30" height="5.00" fill="#000" />
<line x1="360.00" y1="181.20" x2="366.40" y2="181.20" stroke="#000" stroke-width="0.8" />
<line x1="366.40" y1="180.00" x2="366.40" y2="182.40" stroke="#000" stroke-width="0.8" />
<text transform="translate(272.2,183.10) scale(1.08,1)" font-size="6.05" text-anchor="end">K</text>
<line x1="273.30" y1="181.20" x2="274.70" y2="181.20" stroke="#000" stroke-width="0.6" />
<rect x="274.70" y="184.30" width="29.60" height="5.00" fill="#000" />
<line x1="304.30" y1="186.80" x2="306.40" y2="186.80" stroke="#000" stroke-width="0.8" />
<line x1="306.40" y1="185.60" x2="306.40" y2="188.00" stroke="#000" stroke-width="0.8" />
<text transform="translate(272.2,188.70) scale(1.08,1)" font-size="6.05" text-anchor="end">Dia</text>
<line x1="273.30" y1="186.80" x2="274.70" y2="186.80" stroke="#000" stroke-width="0.6" />
<line x1="274.60" y1="192.40" x2="453.00" y2="192.40" stroke="#484848" stroke-width="1.25" stroke-dasharray="4.3 2.38"/>
<text transform="translate(272.2,194.30) scale(1.08,1)" font-size="6.05" text-anchor="end">TF</text>
<line x1="273.30" y1="192.40" x2="274.70" y2="192.40" stroke="#000" stroke-width="0.6" />
<line x1="274.70" y1="167.20" x2="274.70" y2="196.30" stroke="#000" stroke-width="1.2" />
<line x1="274.10" y1="195.80" x2="453.80" y2="195.80" stroke="#000" stroke-width="1.0" />
<line x1="274.88" y1="195.80" x2="274.88" y2="197.60" stroke="#000" stroke-width="0.8" />
<line x1="279.18" y1="195.80" x2="279.18" y2="197.60" stroke="#000" stroke-width="0.8" />
<line x1="282.80" y1="195.80" x2="282.80" y2="197.60" stroke="#000" stroke-width="0.8" />
<line x1="285.95" y1="195.80" x2="285.95" y2="197.60" stroke="#000" stroke-width="0.8" />
<line x1="288.72" y1="195.80" x2="288.72" y2="197.60" stroke="#000" stroke-width="0.8" />
<line x1="291.20" y1="195.80" x2="291.20" y2="198.40" stroke="#000" stroke-width="0.8" />
<line x1="307.52" y1="195.80" x2="307.52" y2="197.60" stroke="#000" stroke-width="0.8" />
<line x1="317.06" y1="195.80" x2="317.06" y2="197.60" stroke="#000" stroke-width="0.8" />
<line x1="323.83" y1="195.80" x2="323.83" y2="197.60" stroke="#000" stroke-width="0.8" />
<line x1="329.08" y1="195.80" x2="329.08" y2="197.60" stroke="#000" stroke-width="0.8" />
<line x1="333.38" y1="195.80" x2="333.38" y2="197.60" stroke="#000" stroke-width="0.8" />
<line x1="337.00" y1="195.80" x2="337.00" y2="197.60" stroke="#000" stroke-width="0.8" />
<line x1="340.15" y1="195.80" x2="340.15" y2="197.60" stroke="#000" stroke-width="0.8" />
<line x1="342.92" y1="195.80" x2="342.92" y2="197.60" stroke="#000" stroke-width="0.8" />
<line x1="345.40" y1="195.80" x2="345.40" y2="198.40" stroke="#000" stroke-width="0.8" />
<line x1="361.72" y1="195.80" x2="361.72" y2="197.60" stroke="#000" stroke-width="0.8" />
<line x1="371.26" y1="195.80" x2="371.26" y2="197.60" stroke="#000" stroke-width="0.8" />
<line x1="378.03" y1="195.80" x2="378.03" y2="197.60" stroke="#000" stroke-width="0.8" />
<line x1="383.28" y1="195.80" x2="383.28" y2="197.60" stroke="#000" stroke-width="0.8" />
<line x1="387.58" y1="195.80" x2="387.58" y2="197.60" stroke="#000" stroke-width="0.8" />
<line x1="391.20" y1="195.80" x2="391.20" y2="197.60" stroke="#000" stroke-width="0.8" />
<line x1="394.35" y1="195.80" x2="394.35" y2="197.60" stroke="#000" stroke-width="0.8" />
<line x1="397.12" y1="195.80" x2="397.12" y2="197.60" stroke="#000" stroke-width="0.8" />
<line x1="399.60" y1="195.80" x2="399.60" y2="198.40" stroke="#000" stroke-width="0.8" />
<line x1="415.92" y1="195.80" x2="415.92" y2="197.60" stroke="#000" stroke-width="0.8" />
<line x1="425.46" y1="195.80" x2="425.46" y2="197.60" stroke="#000" stroke-width="0.8" />
<line x1="432.23" y1="195.80" x2="432.23" y2="197.60" stroke="#000" stroke-width="0.8" />
<line x1="437.48" y1="195.80" x2="437.48" y2="197.60" stroke="#000" stroke-width="0.8" />
<line x1="441.78" y1="195.80" x2="441.78" y2="197.60" stroke="#000" stroke-width="0.8" />
<line x1="445.40" y1="195.80" x2="445.40" y2="197.60" stroke="#000" stroke-width="0.8" />
<line x1="448.55" y1="195.80" x2="448.55" y2="197.60" stroke="#000" stroke-width="0.8" />
<line x1="451.32" y1="195.80" x2="451.32" y2="197.60" stroke="#000" stroke-width="0.8" />
<line x1="453.80" y1="195.80" x2="453.80" y2="198.40" stroke="#000" stroke-width="0.8" />
<text x="477.70" y="181.60" font-size="7.5" text-anchor="middle" >(5) Gen 1.0 dendrimer</text>
<rect x="274.70" y="200.50" width="126.60" height="5.00" fill="#000" />
<line x1="401.30" y1="203.00" x2="404.00" y2="203.00" stroke="#000" stroke-width="0.8" />
<line x1="404.00" y1="201.80" x2="404.00" y2="204.20" stroke="#000" stroke-width="0.8" />
<text transform="translate(272.2,204.90) scale(1.08,1)" font-size="6.05" text-anchor="end">P</text>
<line x1="273.30" y1="203.00" x2="274.70" y2="203.00" stroke="#000" stroke-width="0.6" />
<rect x="274.70" y="206.10" width="153.20" height="5.00" fill="#000" />
<line x1="427.90" y1="208.60" x2="432.60" y2="208.60" stroke="#000" stroke-width="0.8" />
<line x1="432.60" y1="207.40" x2="432.60" y2="209.80" stroke="#000" stroke-width="0.8" />
<text transform="translate(272.2,210.50) scale(1.08,1)" font-size="6.05" text-anchor="end">RNA</text>
<line x1="273.30" y1="208.60" x2="274.70" y2="208.60" stroke="#000" stroke-width="0.6" />
<rect x="274.70" y="211.70" width="65.30" height="5.00" fill="#000" />
<line x1="340.00" y1="214.20" x2="343.30" y2="214.20" stroke="#000" stroke-width="0.8" />
<line x1="343.30" y1="213.00" x2="343.30" y2="215.40" stroke="#000" stroke-width="0.8" />
<text transform="translate(272.2,216.10) scale(1.08,1)" font-size="6.05" text-anchor="end">K</text>
<line x1="273.30" y1="214.20" x2="274.70" y2="214.20" stroke="#000" stroke-width="0.6" />
<rect x="274.70" y="217.30" width="80.80" height="5.00" fill="#000" />
<line x1="355.50" y1="219.80" x2="358.10" y2="219.80" stroke="#000" stroke-width="0.8" />
<line x1="358.10" y1="218.60" x2="358.10" y2="221.00" stroke="#000" stroke-width="0.8" />
<text transform="translate(272.2,221.70) scale(1.08,1)" font-size="6.05" text-anchor="end">Dia</text>
<line x1="273.30" y1="219.80" x2="274.70" y2="219.80" stroke="#000" stroke-width="0.6" />
<line x1="274.60" y1="225.40" x2="453.00" y2="225.40" stroke="#484848" stroke-width="1.25" stroke-dasharray="4.3 2.38"/>
<text transform="translate(272.2,227.30) scale(1.08,1)" font-size="6.05" text-anchor="end">TF</text>
<line x1="273.30" y1="225.40" x2="274.70" y2="225.40" stroke="#000" stroke-width="0.6" />
<line x1="274.70" y1="200.20" x2="274.70" y2="229.30" stroke="#000" stroke-width="1.2" />
<line x1="274.10" y1="228.80" x2="453.80" y2="228.80" stroke="#000" stroke-width="1.0" />
<line x1="274.88" y1="228.80" x2="274.88" y2="230.60" stroke="#000" stroke-width="0.8" />
<line x1="279.18" y1="228.80" x2="279.18" y2="230.60" stroke="#000" stroke-width="0.8" />
<line x1="282.80" y1="228.80" x2="282.80" y2="230.60" stroke="#000" stroke-width="0.8" />
<line x1="285.95" y1="228.80" x2="285.95" y2="230.60" stroke="#000" stroke-width="0.8" />
<line x1="288.72" y1="228.80" x2="288.72" y2="230.60" stroke="#000" stroke-width="0.8" />
<line x1="291.20" y1="228.80" x2="291.20" y2="231.40" stroke="#000" stroke-width="0.8" />
<line x1="307.52" y1="228.80" x2="307.52" y2="230.60" stroke="#000" stroke-width="0.8" />
<line x1="317.06" y1="228.80" x2="317.06" y2="230.60" stroke="#000" stroke-width="0.8" />
<line x1="323.83" y1="228.80" x2="323.83" y2="230.60" stroke="#000" stroke-width="0.8" />
<line x1="329.08" y1="228.80" x2="329.08" y2="230.60" stroke="#000" stroke-width="0.8" />
<line x1="333.38" y1="228.80" x2="333.38" y2="230.60" stroke="#000" stroke-width="0.8" />
<line x1="337.00" y1="228.80" x2="337.00" y2="230.60" stroke="#000" stroke-width="0.8" />
<line x1="340.15" y1="228.80" x2="340.15" y2="230.60" stroke="#000" stroke-width="0.8" />
<line x1="342.92" y1="228.80" x2="342.92" y2="230.60" stroke="#000" stroke-width="0.8" />
<line x1="345.40" y1="228.80" x2="345.40" y2="231.40" stroke="#000" stroke-width="0.8" />
<line x1="361.72" y1="228.80" x2="361.72" y2="230.60" stroke="#000" stroke-width="0.8" />
<line x1="371.26" y1="228.80" x2="371.26" y2="230.60" stroke="#000" stroke-width="0.8" />
<line x1="378.03" y1="228.80" x2="378.03" y2="230.60" stroke="#000" stroke-width="0.8" />
<line x1="383.28" y1="228.80" x2="383.28" y2="230.60" stroke="#000" stroke-width="0.8" />
<line x1="387.58" y1="228.80" x2="387.58" y2="230.60" stroke="#000" stroke-width="0.8" />
<line x1="391.20" y1="228.80" x2="391.20" y2="230.60" stroke="#000" stroke-width="0.8" />
<line x1="394.35" y1="228.80" x2="394.35" y2="230.60" stroke="#000" stroke-width="0.8" />
<line x1="397.12" y1="228.80" x2="397.12" y2="230.60" stroke="#000" stroke-width="0.8" />
<line x1="399.60" y1="228.80" x2="399.60" y2="231.40" stroke="#000" stroke-width="0.8" />
<line x1="415.92" y1="228.80" x2="415.92" y2="230.60" stroke="#000" stroke-width="0.8" />
<line x1="425.46" y1="228.80" x2="425.46" y2="230.60" stroke="#000" stroke-width="0.8" />
<line x1="432.23" y1="228.80" x2="432.23" y2="230.60" stroke="#000" stroke-width="0.8" />
<line x1="437.48" y1="228.80" x2="437.48" y2="230.60" stroke="#000" stroke-width="0.8" />
<line x1="441.78" y1="228.80" x2="441.78" y2="230.60" stroke="#000" stroke-width="0.8" />
<line x1="445.40" y1="228.80" x2="445.40" y2="230.60" stroke="#000" stroke-width="0.8" />
<line x1="448.55" y1="228.80" x2="448.55" y2="230.60" stroke="#000" stroke-width="0.8" />
<line x1="451.32" y1="228.80" x2="451.32" y2="230.60" stroke="#000" stroke-width="0.8" />
<line x1="453.80" y1="228.80" x2="453.80" y2="231.40" stroke="#000" stroke-width="0.8" />
<text x="477.70" y="214.50" font-size="7.5" text-anchor="middle" >(6) Histone H1</text>
<rect x="274.70" y="234.70" width="112.30" height="5.00" fill="#000" />
<line x1="387.00" y1="237.20" x2="388.80" y2="237.20" stroke="#000" stroke-width="0.8" />
<line x1="388.80" y1="236.00" x2="388.80" y2="238.40" stroke="#000" stroke-width="0.8" />
<text transform="translate(272.2,239.10) scale(1.08,1)" font-size="6.05" text-anchor="end">P</text>
<line x1="273.30" y1="237.20" x2="274.70" y2="237.20" stroke="#000" stroke-width="0.6" />
<rect x="274.70" y="240.30" width="74.60" height="5.00" fill="#000" />
<line x1="349.30" y1="242.80" x2="351.40" y2="242.80" stroke="#000" stroke-width="0.8" />
<line x1="351.40" y1="241.60" x2="351.40" y2="244.00" stroke="#000" stroke-width="0.8" />
<text transform="translate(272.2,244.70) scale(1.08,1)" font-size="6.05" text-anchor="end">RNA</text>
<line x1="273.30" y1="242.80" x2="274.70" y2="242.80" stroke="#000" stroke-width="0.6" />
<rect x="274.70" y="245.90" width="124.60" height="5.00" fill="#000" />
<line x1="399.30" y1="248.40" x2="400.20" y2="248.40" stroke="#000" stroke-width="0.8" />
<line x1="400.20" y1="247.20" x2="400.20" y2="249.60" stroke="#000" stroke-width="0.8" />
<text transform="translate(272.2,250.30) scale(1.08,1)" font-size="6.05" text-anchor="end">K</text>
<line x1="273.30" y1="248.40" x2="274.70" y2="248.40" stroke="#000" stroke-width="0.6" />
<rect x="274.70" y="251.50" width="75.80" height="5.00" fill="#000" />
<line x1="350.50" y1="254.00" x2="355.00" y2="254.00" stroke="#000" stroke-width="0.8" />
<line x1="355.00" y1="252.80" x2="355.00" y2="255.20" stroke="#000" stroke-width="0.8" />
<text transform="translate(272.2,255.90) scale(1.08,1)" font-size="6.05" text-anchor="end">Dia</text>
<line x1="273.30" y1="254.00" x2="274.70" y2="254.00" stroke="#000" stroke-width="0.6" />
<line x1="274.60" y1="259.60" x2="453.00" y2="259.60" stroke="#484848" stroke-width="1.25" stroke-dasharray="4.3 2.38"/>
<text transform="translate(272.2,261.50) scale(1.08,1)" font-size="6.05" text-anchor="end">TF</text>
<line x1="273.30" y1="259.60" x2="274.70" y2="259.60" stroke="#000" stroke-width="0.6" />
<line x1="274.70" y1="234.40" x2="274.70" y2="263.50" stroke="#000" stroke-width="1.2" />
<line x1="274.10" y1="263.00" x2="453.80" y2="263.00" stroke="#000" stroke-width="1.0" />
<line x1="274.88" y1="263.00" x2="274.88" y2="264.80" stroke="#000" stroke-width="0.8" />
<line x1="279.18" y1="263.00" x2="279.18" y2="264.80" stroke="#000" stroke-width="0.8" />
<line x1="282.80" y1="263.00" x2="282.80" y2="264.80" stroke="#000" stroke-width="0.8" />
<line x1="285.95" y1="263.00" x2="285.95" y2="264.80" stroke="#000" stroke-width="0.8" />
<line x1="288.72" y1="263.00" x2="288.72" y2="264.80" stroke="#000" stroke-width="0.8" />
<line x1="291.20" y1="263.00" x2="291.20" y2="265.60" stroke="#000" stroke-width="0.8" />
<line x1="307.52" y1="263.00" x2="307.52" y2="264.80" stroke="#000" stroke-width="0.8" />
<line x1="317.06" y1="263.00" x2="317.06" y2="264.80" stroke="#000" stroke-width="0.8" />
<line x1="323.83" y1="263.00" x2="323.83" y2="264.80" stroke="#000" stroke-width="0.8" />
<line x1="329.08" y1="263.00" x2="329.08" y2="264.80" stroke="#000" stroke-width="0.8" />
<line x1="333.38" y1="263.00" x2="333.38" y2="264.80" stroke="#000" stroke-width="0.8" />
<line x1="337.00" y1="263.00" x2="337.00" y2="264.80" stroke="#000" stroke-width="0.8" />
<line x1="340.15" y1="263.00" x2="340.15" y2="264.80" stroke="#000" stroke-width="0.8" />
<line x1="342.92" y1="263.00" x2="342.92" y2="264.80" stroke="#000" stroke-width="0.8" />
<line x1="345.40" y1="263.00" x2="345.40" y2="265.60" stroke="#000" stroke-width="0.8" />
<line x1="361.72" y1="263.00" x2="361.72" y2="264.80" stroke="#000" stroke-width="0.8" />
<line x1="371.26" y1="263.00" x2="371.26" y2="264.80" stroke="#000" stroke-width="0.8" />
<line x1="378.03" y1="263.00" x2="378.03" y2="264.80" stroke="#000" stroke-width="0.8" />
<line x1="383.28" y1="263.00" x2="383.28" y2="264.80" stroke="#000" stroke-width="0.8" />
<line x1="387.58" y1="263.00" x2="387.58" y2="264.80" stroke="#000" stroke-width="0.8" />
<line x1="391.20" y1="263.00" x2="391.20" y2="264.80" stroke="#000" stroke-width="0.8" />
<line x1="394.35" y1="263.00" x2="394.35" y2="264.80" stroke="#000" stroke-width="0.8" />
<line x1="397.12" y1="263.00" x2="397.12" y2="264.80" stroke="#000" stroke-width="0.8" />
<line x1="399.60" y1="263.00" x2="399.60" y2="265.60" stroke="#000" stroke-width="0.8" />
<line x1="415.92" y1="263.00" x2="415.92" y2="264.80" stroke="#000" stroke-width="0.8" />
<line x1="425.46" y1="263.00" x2="425.46" y2="264.80" stroke="#000" stroke-width="0.8" />
<line x1="432.23" y1="263.00" x2="432.23" y2="264.80" stroke="#000" stroke-width="0.8" />
<line x1="437.48" y1="263.00" x2="437.48" y2="264.80" stroke="#000" stroke-width="0.8" />
<line x1="441.78" y1="263.00" x2="441.78" y2="264.80" stroke="#000" stroke-width="0.8" />
<line x1="445.40" y1="263.00" x2="445.40" y2="264.80" stroke="#000" stroke-width="0.8" />
<line x1="448.55" y1="263.00" x2="448.55" y2="264.80" stroke="#000" stroke-width="0.8" />
<line x1="451.32" y1="263.00" x2="451.32" y2="264.80" stroke="#000" stroke-width="0.8" />
<line x1="453.80" y1="263.00" x2="453.80" y2="265.60" stroke="#000" stroke-width="0.8" />
<text x="477.70" y="246.60" font-size="7.5" text-anchor="middle" >(7) Surfen</text>
<rect x="274.70" y="267.20" width="72.80" height="5.00" fill="#000" />
<line x1="347.50" y1="269.70" x2="356.30" y2="269.70" stroke="#000" stroke-width="0.8" />
<line x1="356.30" y1="268.50" x2="356.30" y2="270.90" stroke="#000" stroke-width="0.8" />
<text transform="translate(272.2,271.60) scale(1.08,1)" font-size="6.05" text-anchor="end">P</text>
<line x1="273.30" y1="269.70" x2="274.70" y2="269.70" stroke="#000" stroke-width="0.6" />
<line x1="274.60" y1="275.30" x2="453.00" y2="275.30" stroke="#484848" stroke-width="1.25" stroke-dasharray="4.3 2.38"/>
<text transform="translate(272.2,277.20) scale(1.08,1)" font-size="6.05" text-anchor="end">RNA</text>
<line x1="273.30" y1="275.30" x2="274.70" y2="275.30" stroke="#000" stroke-width="0.6" />
<rect x="274.70" y="278.40" width="71.60" height="5.00" fill="#000" />
<line x1="346.30" y1="280.90" x2="350.10" y2="280.90" stroke="#000" stroke-width="0.8" />
<line x1="350.10" y1="279.70" x2="350.10" y2="282.10" stroke="#000" stroke-width="0.8" />
<text transform="translate(272.2,282.80) scale(1.08,1)" font-size="6.05" text-anchor="end">K</text>
<line x1="273.30" y1="280.90" x2="274.70" y2="280.90" stroke="#000" stroke-width="0.6" />
<rect x="274.70" y="284.00" width="76.60" height="5.00" fill="#000" />
<line x1="351.30" y1="286.50" x2="352.60" y2="286.50" stroke="#000" stroke-width="0.8" />
<line x1="352.60" y1="285.30" x2="352.60" y2="287.70" stroke="#000" stroke-width="0.8" />
<text transform="translate(272.2,288.40) scale(1.08,1)" font-size="6.05" text-anchor="end">Dia</text>
<line x1="273.30" y1="286.50" x2="274.70" y2="286.50" stroke="#000" stroke-width="0.6" />
<rect x="274.70" y="289.60" width="124.10" height="5.00" fill="#000" />
<line x1="398.80" y1="292.10" x2="400.60" y2="292.10" stroke="#000" stroke-width="0.8" />
<line x1="400.60" y1="290.90" x2="400.60" y2="293.30" stroke="#000" stroke-width="0.8" />
<text transform="translate(272.2,294.00) scale(1.08,1)" font-size="6.05" text-anchor="end">TF</text>
<line x1="273.30" y1="292.10" x2="274.70" y2="292.10" stroke="#000" stroke-width="0.6" />
<line x1="274.70" y1="266.90" x2="274.70" y2="296.00" stroke="#000" stroke-width="1.2" />
<line x1="274.10" y1="295.50" x2="453.80" y2="295.50" stroke="#000" stroke-width="1.0" />
<line x1="274.88" y1="295.50" x2="274.88" y2="297.30" stroke="#000" stroke-width="0.8" />
<line x1="279.18" y1="295.50" x2="279.18" y2="297.30" stroke="#000" stroke-width="0.8" />
<line x1="282.80" y1="295.50" x2="282.80" y2="297.30" stroke="#000" stroke-width="0.8" />
<line x1="285.95" y1="295.50" x2="285.95" y2="297.30" stroke="#000" stroke-width="0.8" />
<line x1="288.72" y1="295.50" x2="288.72" y2="297.30" stroke="#000" stroke-width="0.8" />
<line x1="291.20" y1="295.50" x2="291.20" y2="298.10" stroke="#000" stroke-width="0.8" />
<line x1="307.52" y1="295.50" x2="307.52" y2="297.30" stroke="#000" stroke-width="0.8" />
<line x1="317.06" y1="295.50" x2="317.06" y2="297.30" stroke="#000" stroke-width="0.8" />
<line x1="323.83" y1="295.50" x2="323.83" y2="297.30" stroke="#000" stroke-width="0.8" />
<line x1="329.08" y1="295.50" x2="329.08" y2="297.30" stroke="#000" stroke-width="0.8" />
<line x1="333.38" y1="295.50" x2="333.38" y2="297.30" stroke="#000" stroke-width="0.8" />
<line x1="337.00" y1="295.50" x2="337.00" y2="297.30" stroke="#000" stroke-width="0.8" />
<line x1="340.15" y1="295.50" x2="340.15" y2="297.30" stroke="#000" stroke-width="0.8" />
<line x1="342.92" y1="295.50" x2="342.92" y2="297.30" stroke="#000" stroke-width="0.8" />
<line x1="345.40" y1="295.50" x2="345.40" y2="298.10" stroke="#000" stroke-width="0.8" />
<line x1="361.72" y1="295.50" x2="361.72" y2="297.30" stroke="#000" stroke-width="0.8" />
<line x1="371.26" y1="295.50" x2="371.26" y2="297.30" stroke="#000" stroke-width="0.8" />
<line x1="378.03" y1="295.50" x2="378.03" y2="297.30" stroke="#000" stroke-width="0.8" />
<line x1="383.28" y1="295.50" x2="383.28" y2="297.30" stroke="#000" stroke-width="0.8" />
<line x1="387.58" y1="295.50" x2="387.58" y2="297.30" stroke="#000" stroke-width="0.8" />
<line x1="391.20" y1="295.50" x2="391.20" y2="297.30" stroke="#000" stroke-width="0.8" />
<line x1="394.35" y1="295.50" x2="394.35" y2="297.30" stroke="#000" stroke-width="0.8" />
<line x1="397.12" y1="295.50" x2="397.12" y2="297.30" stroke="#000" stroke-width="0.8" />
<line x1="399.60" y1="295.50" x2="399.60" y2="298.10" stroke="#000" stroke-width="0.8" />
<line x1="415.92" y1="295.50" x2="415.92" y2="297.30" stroke="#000" stroke-width="0.8" />
<line x1="425.46" y1="295.50" x2="425.46" y2="297.30" stroke="#000" stroke-width="0.8" />
<line x1="432.23" y1="295.50" x2="432.23" y2="297.30" stroke="#000" stroke-width="0.8" />
<line x1="437.48" y1="295.50" x2="437.48" y2="297.30" stroke="#000" stroke-width="0.8" />
<line x1="441.78" y1="295.50" x2="441.78" y2="297.30" stroke="#000" stroke-width="0.8" />
<line x1="445.40" y1="295.50" x2="445.40" y2="297.30" stroke="#000" stroke-width="0.8" />
<line x1="448.55" y1="295.50" x2="448.55" y2="297.30" stroke="#000" stroke-width="0.8" />
<line x1="451.32" y1="295.50" x2="451.32" y2="297.30" stroke="#000" stroke-width="0.8" />
<line x1="453.80" y1="295.50" x2="453.80" y2="298.10" stroke="#000" stroke-width="0.8" />
<text x="477.70" y="281.20" font-size="7.5" text-anchor="middle" >(8) Protamine</text>
<rect x="274.70" y="300.70" width="81.60" height="5.00" fill="#000" />
<line x1="356.30" y1="303.20" x2="358.90" y2="303.20" stroke="#000" stroke-width="0.8" />
<line x1="358.90" y1="302.00" x2="358.90" y2="304.40" stroke="#000" stroke-width="0.8" />
<text transform="translate(272.2,305.10) scale(1.08,1)" font-size="6.05" text-anchor="end">P</text>
<line x1="273.30" y1="303.20" x2="274.70" y2="303.20" stroke="#000" stroke-width="0.6" />
<rect x="274.70" y="306.30" width="151.60" height="5.00" fill="#000" />
<line x1="426.30" y1="308.80" x2="428.00" y2="308.80" stroke="#000" stroke-width="0.8" />
<line x1="428.00" y1="307.60" x2="428.00" y2="310.00" stroke="#000" stroke-width="0.8" />
<text transform="translate(272.2,310.70) scale(1.08,1)" font-size="6.05" text-anchor="end">RNA</text>
<line x1="273.30" y1="308.80" x2="274.70" y2="308.80" stroke="#000" stroke-width="0.6" />
<rect x="274.70" y="311.90" width="125.90" height="5.00" fill="#000" />
<line x1="400.60" y1="314.40" x2="405.90" y2="314.40" stroke="#000" stroke-width="0.8" />
<line x1="405.90" y1="313.20" x2="405.90" y2="315.60" stroke="#000" stroke-width="0.8" />
<text transform="translate(272.2,316.30) scale(1.08,1)" font-size="6.05" text-anchor="end">K</text>
<line x1="273.30" y1="314.40" x2="274.70" y2="314.40" stroke="#000" stroke-width="0.6" />
<rect x="274.70" y="317.50" width="155.10" height="5.00" fill="#000" />
<line x1="429.80" y1="320.00" x2="436.00" y2="320.00" stroke="#000" stroke-width="0.8" />
<line x1="436.00" y1="318.80" x2="436.00" y2="321.20" stroke="#000" stroke-width="0.8" />
<text transform="translate(272.2,321.90) scale(1.08,1)" font-size="6.05" text-anchor="end">Dia</text>
<line x1="273.30" y1="320.00" x2="274.70" y2="320.00" stroke="#000" stroke-width="0.6" />
<line x1="274.60" y1="325.60" x2="453.00" y2="325.60" stroke="#484848" stroke-width="1.25" stroke-dasharray="4.3 2.38"/>
<text transform="translate(272.2,327.50) scale(1.08,1)" font-size="6.05" text-anchor="end">TF</text>
<line x1="273.30" y1="325.60" x2="274.70" y2="325.60" stroke="#000" stroke-width="0.6" />
<line x1="274.70" y1="300.40" x2="274.70" y2="329.50" stroke="#000" stroke-width="1.2" />
<line x1="274.10" y1="329.00" x2="453.80" y2="329.00" stroke="#000" stroke-width="1.0" />
<line x1="274.88" y1="329.00" x2="274.88" y2="330.80" stroke="#000" stroke-width="0.8" />
<line x1="279.18" y1="329.00" x2="279.18" y2="330.80" stroke="#000" stroke-width="0.8" />
<line x1="282.80" y1="329.00" x2="282.80" y2="330.80" stroke="#000" stroke-width="0.8" />
<line x1="285.95" y1="329.00" x2="285.95" y2="330.80" stroke="#000" stroke-width="0.8" />
<line x1="288.72" y1="329.00" x2="288.72" y2="330.80" stroke="#000" stroke-width="0.8" />
<line x1="291.20" y1="329.00" x2="291.20" y2="331.60" stroke="#000" stroke-width="0.8" />
<line x1="307.52" y1="329.00" x2="307.52" y2="330.80" stroke="#000" stroke-width="0.8" />
<line x1="317.06" y1="329.00" x2="317.06" y2="330.80" stroke="#000" stroke-width="0.8" />
<line x1="323.83" y1="329.00" x2="323.83" y2="330.80" stroke="#000" stroke-width="0.8" />
<line x1="329.08" y1="329.00" x2="329.08" y2="330.80" stroke="#000" stroke-width="0.8" />
<line x1="333.38" y1="329.00" x2="333.38" y2="330.80" stroke="#000" stroke-width="0.8" />
<line x1="337.00" y1="329.00" x2="337.00" y2="330.80" stroke="#000" stroke-width="0.8" />
<line x1="340.15" y1="329.00" x2="340.15" y2="330.80" stroke="#000" stroke-width="0.8" />
<line x1="342.92" y1="329.00" x2="342.92" y2="330.80" stroke="#000" stroke-width="0.8" />
<line x1="345.40" y1="329.00" x2="345.40" y2="331.60" stroke="#000" stroke-width="0.8" />
<line x1="361.72" y1="329.00" x2="361.72" y2="330.80" stroke="#000" stroke-width="0.8" />
<line x1="371.26" y1="329.00" x2="371.26" y2="330.80" stroke="#000" stroke-width="0.8" />
<line x1="378.03" y1="329.00" x2="378.03" y2="330.80" stroke="#000" stroke-width="0.8" />
<line x1="383.28" y1="329.00" x2="383.28" y2="330.80" stroke="#000" stroke-width="0.8" />
<line x1="387.58" y1="329.00" x2="387.58" y2="330.80" stroke="#000" stroke-width="0.8" />
<line x1="391.20" y1="329.00" x2="391.20" y2="330.80" stroke="#000" stroke-width="0.8" />
<line x1="394.35" y1="329.00" x2="394.35" y2="330.80" stroke="#000" stroke-width="0.8" />
<line x1="397.12" y1="329.00" x2="397.12" y2="330.80" stroke="#000" stroke-width="0.8" />
<line x1="399.60" y1="329.00" x2="399.60" y2="331.60" stroke="#000" stroke-width="0.8" />
<line x1="415.92" y1="329.00" x2="415.92" y2="330.80" stroke="#000" stroke-width="0.8" />
<line x1="425.46" y1="329.00" x2="425.46" y2="330.80" stroke="#000" stroke-width="0.8" />
<line x1="432.23" y1="329.00" x2="432.23" y2="330.80" stroke="#000" stroke-width="0.8" />
<line x1="437.48" y1="329.00" x2="437.48" y2="330.80" stroke="#000" stroke-width="0.8" />
<line x1="441.78" y1="329.00" x2="441.78" y2="330.80" stroke="#000" stroke-width="0.8" />
<line x1="445.40" y1="329.00" x2="445.40" y2="330.80" stroke="#000" stroke-width="0.8" />
<line x1="448.55" y1="329.00" x2="448.55" y2="330.80" stroke="#000" stroke-width="0.8" />
<line x1="451.32" y1="329.00" x2="451.32" y2="330.80" stroke="#000" stroke-width="0.8" />
<line x1="453.80" y1="329.00" x2="453.80" y2="331.60" stroke="#000" stroke-width="0.8" />
<text x="477.70" y="314.50" font-size="7.5" text-anchor="middle" >(9) Polymyxin B</text>
<rect x="274.70" y="336.30" width="80.30" height="5.00" fill="#000" />
<line x1="355.00" y1="338.80" x2="360.80" y2="338.80" stroke="#000" stroke-width="0.8" />
<line x1="360.80" y1="337.60" x2="360.80" y2="340.00" stroke="#000" stroke-width="0.8" />
<text transform="translate(272.2,340.70) scale(1.08,1)" font-size="6.05" text-anchor="end">P</text>
<line x1="273.30" y1="338.80" x2="274.70" y2="338.80" stroke="#000" stroke-width="0.6" />
<rect x="274.70" y="341.90" width="162.30" height="5.00" fill="#000" />
<line x1="437.00" y1="344.40" x2="441.80" y2="344.40" stroke="#000" stroke-width="0.8" />
<line x1="441.80" y1="343.20" x2="441.80" y2="345.60" stroke="#000" stroke-width="0.8" />
<text transform="translate(272.2,346.30) scale(1.08,1)" font-size="6.05" text-anchor="end">RNA</text>
<line x1="273.30" y1="344.40" x2="274.70" y2="344.40" stroke="#000" stroke-width="0.6" />
<rect x="274.70" y="347.50" width="99.50" height="5.00" fill="#000" />
<line x1="374.20" y1="350.00" x2="378.20" y2="350.00" stroke="#000" stroke-width="0.8" />
<line x1="378.20" y1="348.80" x2="378.20" y2="351.20" stroke="#000" stroke-width="0.8" />
<text transform="translate(272.2,351.90) scale(1.08,1)" font-size="6.05" text-anchor="end">K</text>
<line x1="273.30" y1="350.00" x2="274.70" y2="350.00" stroke="#000" stroke-width="0.6" />
<rect x="274.70" y="353.10" width="128.10" height="5.00" fill="#000" />
<line x1="402.80" y1="355.60" x2="408.20" y2="355.60" stroke="#000" stroke-width="0.8" />
<line x1="408.20" y1="354.40" x2="408.20" y2="356.80" stroke="#000" stroke-width="0.8" />
<text transform="translate(272.2,357.50) scale(1.08,1)" font-size="6.05" text-anchor="end">Dia</text>
<line x1="273.30" y1="355.60" x2="274.70" y2="355.60" stroke="#000" stroke-width="0.6" />
<line x1="274.60" y1="361.20" x2="453.00" y2="361.20" stroke="#484848" stroke-width="1.25" stroke-dasharray="4.3 2.38"/>
<text transform="translate(272.2,363.10) scale(1.08,1)" font-size="6.05" text-anchor="end">TF</text>
<line x1="273.30" y1="361.20" x2="274.70" y2="361.20" stroke="#000" stroke-width="0.6" />
<line x1="274.70" y1="336.00" x2="274.70" y2="365.10" stroke="#000" stroke-width="1.2" />
<line x1="274.10" y1="364.60" x2="453.80" y2="364.60" stroke="#000" stroke-width="1.0" />
<line x1="274.88" y1="364.60" x2="274.88" y2="366.40" stroke="#000" stroke-width="0.8" />
<line x1="279.18" y1="364.60" x2="279.18" y2="366.40" stroke="#000" stroke-width="0.8" />
<line x1="282.80" y1="364.60" x2="282.80" y2="366.40" stroke="#000" stroke-width="0.8" />
<line x1="285.95" y1="364.60" x2="285.95" y2="366.40" stroke="#000" stroke-width="0.8" />
<line x1="288.72" y1="364.60" x2="288.72" y2="366.40" stroke="#000" stroke-width="0.8" />
<line x1="291.20" y1="364.60" x2="291.20" y2="367.20" stroke="#000" stroke-width="0.8" />
<line x1="307.52" y1="364.60" x2="307.52" y2="366.40" stroke="#000" stroke-width="0.8" />
<line x1="317.06" y1="364.60" x2="317.06" y2="366.40" stroke="#000" stroke-width="0.8" />
<line x1="323.83" y1="364.60" x2="323.83" y2="366.40" stroke="#000" stroke-width="0.8" />
<line x1="329.08" y1="364.60" x2="329.08" y2="366.40" stroke="#000" stroke-width="0.8" />
<line x1="333.38" y1="364.60" x2="333.38" y2="366.40" stroke="#000" stroke-width="0.8" />
<line x1="337.00" y1="364.60" x2="337.00" y2="366.40" stroke="#000" stroke-width="0.8" />
<line x1="340.15" y1="364.60" x2="340.15" y2="366.40" stroke="#000" stroke-width="0.8" />
<line x1="342.92" y1="364.60" x2="342.92" y2="366.40" stroke="#000" stroke-width="0.8" />
<line x1="345.40" y1="364.60" x2="345.40" y2="367.20" stroke="#000" stroke-width="0.8" />
<line x1="361.72" y1="364.60" x2="361.72" y2="366.40" stroke="#000" stroke-width="0.8" />
<line x1="371.26" y1="364.60" x2="371.26" y2="366.40" stroke="#000" stroke-width="0.8" />
<line x1="378.03" y1="364.60" x2="378.03" y2="366.40" stroke="#000" stroke-width="0.8" />
<line x1="383.28" y1="364.60" x2="383.28" y2="366.40" stroke="#000" stroke-width="0.8" />
<line x1="387.58" y1="364.60" x2="387.58" y2="366.40" stroke="#000" stroke-width="0.8" />
<line x1="391.20" y1="364.60" x2="391.20" y2="366.40" stroke="#000" stroke-width="0.8" />
<line x1="394.35" y1="364.60" x2="394.35" y2="366.40" stroke="#000" stroke-width="0.8" />
<line x1="397.12" y1="364.60" x2="397.12" y2="366.40" stroke="#000" stroke-width="0.8" />
<line x1="399.60" y1="364.60" x2="399.60" y2="367.20" stroke="#000" stroke-width="0.8" />
<line x1="415.92" y1="364.60" x2="415.92" y2="366.40" stroke="#000" stroke-width="0.8" />
<line x1="425.46" y1="364.60" x2="425.46" y2="366.40" stroke="#000" stroke-width="0.8" />
<line x1="432.23" y1="364.60" x2="432.23" y2="366.40" stroke="#000" stroke-width="0.8" />
<line x1="437.48" y1="364.60" x2="437.48" y2="366.40" stroke="#000" stroke-width="0.8" />
<line x1="441.78" y1="364.60" x2="441.78" y2="366.40" stroke="#000" stroke-width="0.8" />
<line x1="445.40" y1="364.60" x2="445.40" y2="366.40" stroke="#000" stroke-width="0.8" />
<line x1="448.55" y1="364.60" x2="448.55" y2="366.40" stroke="#000" stroke-width="0.8" />
<line x1="451.32" y1="364.60" x2="451.32" y2="366.40" stroke="#000" stroke-width="0.8" />
<line x1="453.80" y1="364.60" x2="453.80" y2="367.20" stroke="#000" stroke-width="0.8" />
<text x="477.70" y="351.80" font-size="7.5" text-anchor="middle" >(10) Platelet factor 4</text>
<rect x="274.70" y="370.30" width="148.90" height="5.00" fill="#000" />
<line x1="423.60" y1="372.80" x2="432.80" y2="372.80" stroke="#000" stroke-width="0.8" />
<line x1="432.80" y1="371.60" x2="432.80" y2="374.00" stroke="#000" stroke-width="0.8" />
<text transform="translate(272.2,374.70) scale(1.08,1)" font-size="6.05" text-anchor="end">P</text>
<line x1="273.30" y1="372.80" x2="274.70" y2="372.80" stroke="#000" stroke-width="0.6" />
<line x1="274.60" y1="378.40" x2="453.00" y2="378.40" stroke="#484848" stroke-width="1.25" stroke-dasharray="4.3 2.38"/>
<text transform="translate(272.2,380.30) scale(1.08,1)" font-size="6.05" text-anchor="end">RNA</text>
<line x1="273.30" y1="378.40" x2="274.70" y2="378.40" stroke="#000" stroke-width="0.6" />
<line x1="274.60" y1="384.00" x2="453.00" y2="384.00" stroke="#484848" stroke-width="1.25" stroke-dasharray="4.3 2.38"/>
<text transform="translate(272.2,385.90) scale(1.08,1)" font-size="6.05" text-anchor="end">K</text>
<line x1="273.30" y1="384.00" x2="274.70" y2="384.00" stroke="#000" stroke-width="0.6" />
<line x1="274.60" y1="389.60" x2="453.00" y2="389.60" stroke="#484848" stroke-width="1.25" stroke-dasharray="4.3 2.38"/>
<text transform="translate(272.2,391.50) scale(1.08,1)" font-size="6.05" text-anchor="end">Dia</text>
<line x1="273.30" y1="389.60" x2="274.70" y2="389.60" stroke="#000" stroke-width="0.6" />
<line x1="274.60" y1="395.20" x2="453.00" y2="395.20" stroke="#484848" stroke-width="1.25" stroke-dasharray="4.3 2.38"/>
<text transform="translate(272.2,397.10) scale(1.08,1)" font-size="6.05" text-anchor="end">TF</text>
<line x1="273.30" y1="395.20" x2="274.70" y2="395.20" stroke="#000" stroke-width="0.6" />
<line x1="274.70" y1="370.00" x2="274.70" y2="399.10" stroke="#000" stroke-width="1.2" />
<line x1="274.10" y1="398.60" x2="453.80" y2="398.60" stroke="#000" stroke-width="1.0" />
<line x1="274.88" y1="398.60" x2="274.88" y2="400.40" stroke="#000" stroke-width="0.8" />
<line x1="279.18" y1="398.60" x2="279.18" y2="400.40" stroke="#000" stroke-width="0.8" />
<line x1="282.80" y1="398.60" x2="282.80" y2="400.40" stroke="#000" stroke-width="0.8" />
<line x1="285.95" y1="398.60" x2="285.95" y2="400.40" stroke="#000" stroke-width="0.8" />
<line x1="288.72" y1="398.60" x2="288.72" y2="400.40" stroke="#000" stroke-width="0.8" />
<line x1="291.20" y1="398.60" x2="291.20" y2="401.20" stroke="#000" stroke-width="0.8" />
<line x1="307.52" y1="398.60" x2="307.52" y2="400.40" stroke="#000" stroke-width="0.8" />
<line x1="317.06" y1="398.60" x2="317.06" y2="400.40" stroke="#000" stroke-width="0.8" />
<line x1="323.83" y1="398.60" x2="323.83" y2="400.40" stroke="#000" stroke-width="0.8" />
<line x1="329.08" y1="398.60" x2="329.08" y2="400.40" stroke="#000" stroke-width="0.8" />
<line x1="333.38" y1="398.60" x2="333.38" y2="400.40" stroke="#000" stroke-width="0.8" />
<line x1="337.00" y1="398.60" x2="337.00" y2="400.40" stroke="#000" stroke-width="0.8" />
<line x1="340.15" y1="398.60" x2="340.15" y2="400.40" stroke="#000" stroke-width="0.8" />
<line x1="342.92" y1="398.60" x2="342.92" y2="400.40" stroke="#000" stroke-width="0.8" />
<line x1="345.40" y1="398.60" x2="345.40" y2="401.20" stroke="#000" stroke-width="0.8" />
<line x1="361.72" y1="398.60" x2="361.72" y2="400.40" stroke="#000" stroke-width="0.8" />
<line x1="371.26" y1="398.60" x2="371.26" y2="400.40" stroke="#000" stroke-width="0.8" />
<line x1="378.03" y1="398.60" x2="378.03" y2="400.40" stroke="#000" stroke-width="0.8" />
<line x1="383.28" y1="398.60" x2="383.28" y2="400.40" stroke="#000" stroke-width="0.8" />
<line x1="387.58" y1="398.60" x2="387.58" y2="400.40" stroke="#000" stroke-width="0.8" />
<line x1="391.20" y1="398.60" x2="391.20" y2="400.40" stroke="#000" stroke-width="0.8" />
<line x1="394.35" y1="398.60" x2="394.35" y2="400.40" stroke="#000" stroke-width="0.8" />
<line x1="397.12" y1="398.60" x2="397.12" y2="400.40" stroke="#000" stroke-width="0.8" />
<line x1="399.60" y1="398.60" x2="399.60" y2="401.20" stroke="#000" stroke-width="0.8" />
<line x1="415.92" y1="398.60" x2="415.92" y2="400.40" stroke="#000" stroke-width="0.8" />
<line x1="425.46" y1="398.60" x2="425.46" y2="400.40" stroke="#000" stroke-width="0.8" />
<line x1="432.23" y1="398.60" x2="432.23" y2="400.40" stroke="#000" stroke-width="0.8" />
<line x1="437.48" y1="398.60" x2="437.48" y2="400.40" stroke="#000" stroke-width="0.8" />
<line x1="441.78" y1="398.60" x2="441.78" y2="400.40" stroke="#000" stroke-width="0.8" />
<line x1="445.40" y1="398.60" x2="445.40" y2="400.40" stroke="#000" stroke-width="0.8" />
<line x1="448.55" y1="398.60" x2="448.55" y2="400.40" stroke="#000" stroke-width="0.8" />
<line x1="451.32" y1="398.60" x2="451.32" y2="400.40" stroke="#000" stroke-width="0.8" />
<line x1="453.80" y1="398.60" x2="453.80" y2="401.20" stroke="#000" stroke-width="0.8" />
<text x="477.70" y="384.90" font-size="7.5" text-anchor="middle" >(11) PPXbd</text>
<text x="291.20" y="413.80" font-size="9.4" text-anchor="middle" >0.1</text>
<text x="346.60" y="413.80" font-size="9.4" text-anchor="middle" >1</text>
<text x="400.40" y="413.80" font-size="9.4" text-anchor="middle" >10</text>
<text x="454.20" y="413.80" font-size="9.4" text-anchor="middle" >100</text>
<text x="321.2" y="429.3" font-size="10">EC<tspan font-size="7.9" dy="3.6">double</tspan><tspan dy="-3.6" dx="2">(μg/mL)</tspan></text>
</svg>
</body></html>
